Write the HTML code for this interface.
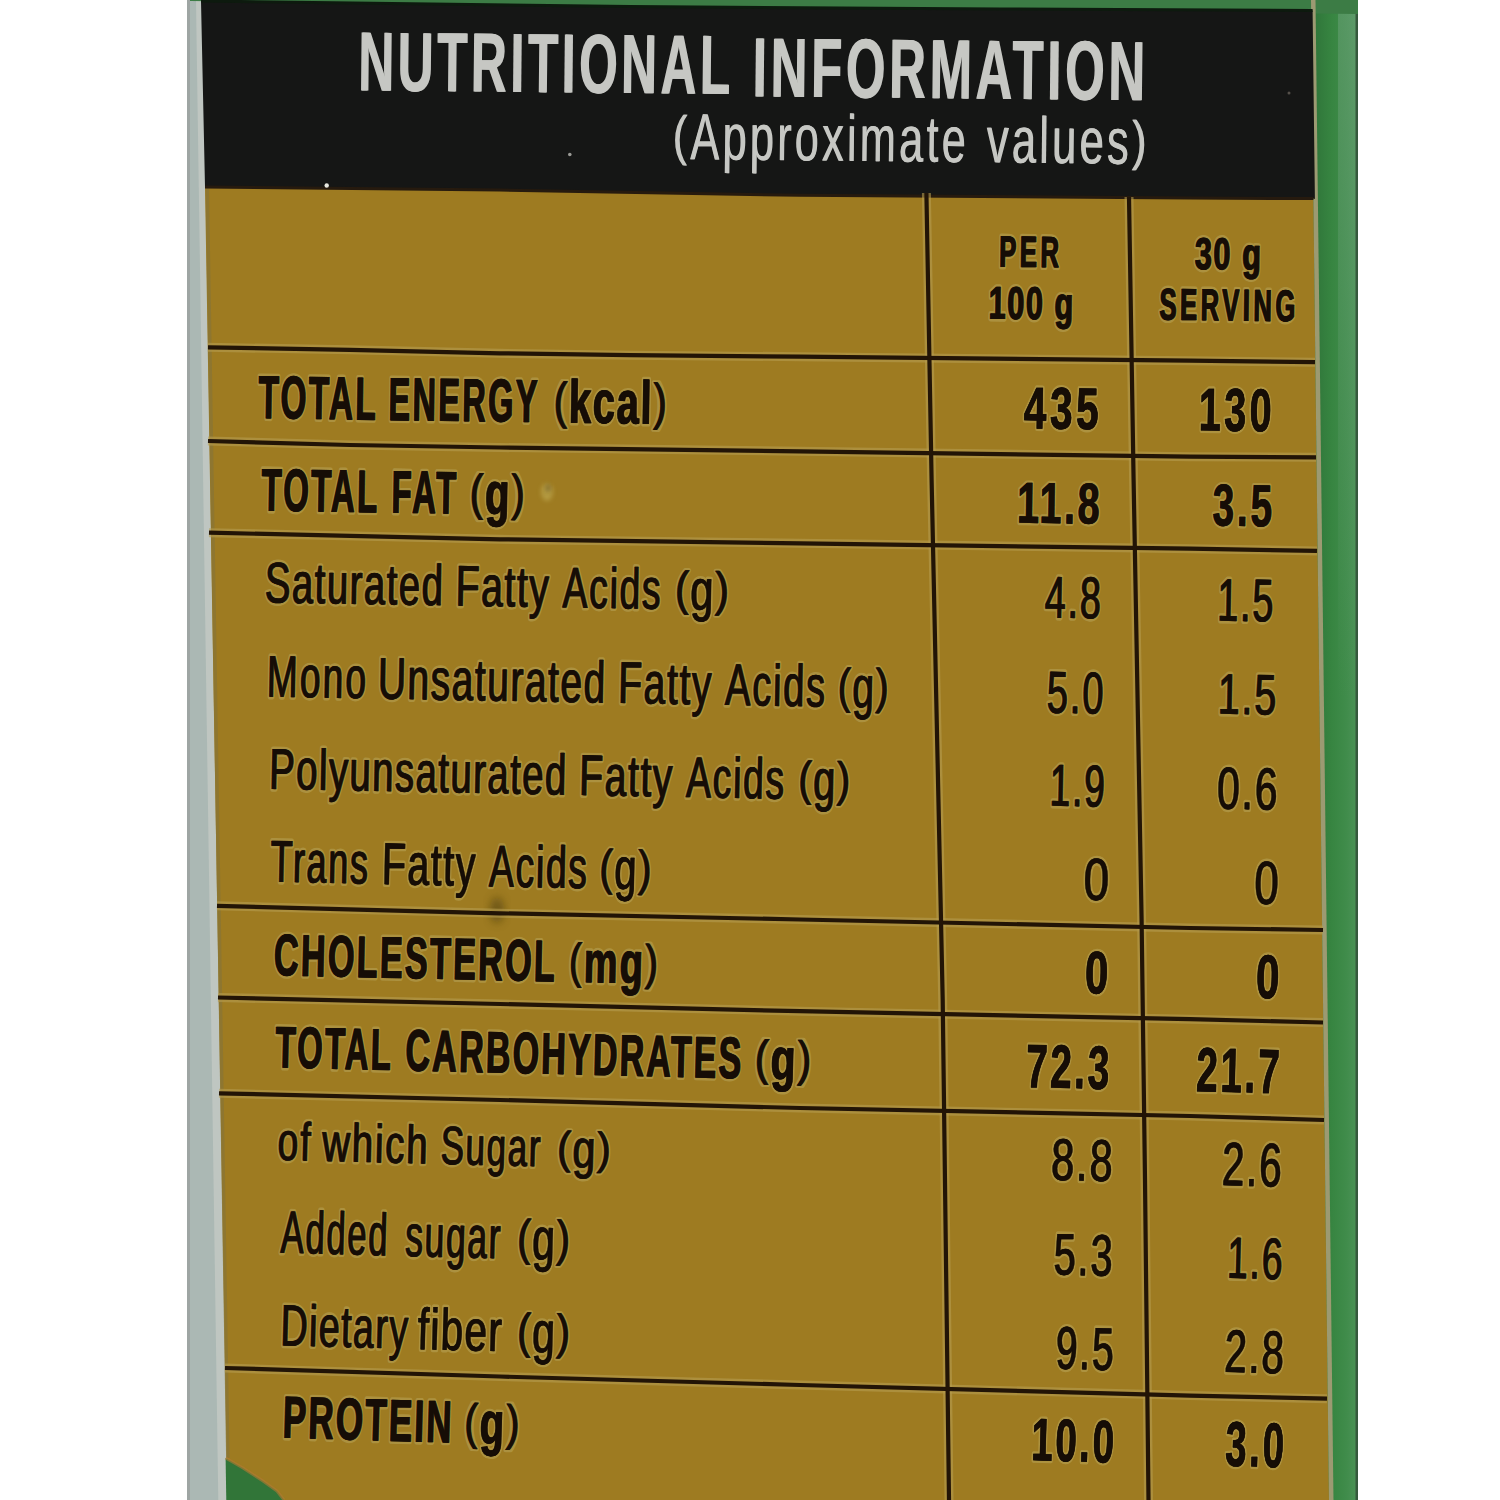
<!DOCTYPE html>
<html><head><meta charset="utf-8"><style>
html,body{margin:0;padding:0;width:1500px;height:1500px;overflow:hidden;background:#fff}
svg{display:block}
text{font-family:"Liberation Sans",sans-serif}
</style></head><body>
<svg width="1500" height="1500" viewBox="0 0 1500 1500" text-rendering="geometricPrecision">
<defs><linearGradient id="gband" gradientUnits="userSpaceOnUse" x1="1315" y1="0" x2="1357" y2="0"><stop offset="0" stop-color="#30763a"/><stop offset="0.4" stop-color="#378541"/><stop offset="0.75" stop-color="#408c4b"/><stop offset="1" stop-color="#4c9257"/></linearGradient><linearGradient id="gtop" gradientUnits="userSpaceOnUse" x1="0" y1="0" x2="0" y2="700"><stop offset="0" stop-color="#7aa888" stop-opacity="0.4"/><stop offset="1" stop-color="#7aa888" stop-opacity="0"/></linearGradient></defs>
<rect x="0" y="0" width="1500" height="1500" fill="#ffffff"/>
<polygon points="187,0 204.0,0 228.3,1500 187,1500" fill="#abb8b4"/>
<polygon points="196.0,0 204.0,0 228.3,1500 218.3,1500" fill="#bfc6c1"/>
<rect x="187" y="0" width="3" height="1500" fill="#9ea5a3"/>
<polygon points="1300,0 1358,0 1358,1500 1300,1500" fill="url(#gband)"/>
<rect x="1338" y="0" width="18" height="1500" fill="url(#gtop)"/>
<rect x="1355.5" y="0" width="2.5" height="1500" fill="#36593d"/>
<polygon points="190,-1 1358,-1 1358,14 190,1" fill="#3c7c45"/>
<polygon points="205.0,187.0 500.0,190.0 800.0,195.3 1190.0,198.0 1313.4,198.6 1329.0,1500 227.3,1500" fill="#9e7b21"/>
<polygon points="205.5,187 209.0,187 229.6,1458 226.1,1458" fill="#8a7634" opacity="0.8"/>
<polygon points="1311.0,0 1315.5,0 1333.5,1500 1329.0,1500" fill="#9c9a72"/>
<polygon points="201.0,1.0 630.0,6.5 1000.0,9.0 1312.6,10.5 1314.9,199 1313.4,198.6 1190.0,198.0 800.0,195.3 500.0,190.0 205.0,187.0" fill="#151615"/>
<polyline points="201.0,1.0 630.0,6.5 1000.0,9.0 1312.6,10.5" fill="none" stroke="#0d1a0e" stroke-width="3"/>
<polyline points="205.0,187.0 500.0,190.0 800.0,195.3 1190.0,198.0 1313.4,198.6" fill="none" stroke="#261a0e" stroke-width="3"/>
<circle cx="326.7" cy="185.5" r="2.2" fill="#e8e8e0"/>
<circle cx="569.8" cy="154.5" r="1.8" fill="#9a9a96"/>
<circle cx="1289" cy="93" r="1.5" fill="#55504a"/>
<defs><filter id="blur4" x="-50%" y="-50%" width="200%" height="200%"><feGaussianBlur stdDeviation="4"/></filter><filter id="blur2" x="-50%" y="-50%" width="200%" height="200%"><feGaussianBlur stdDeviation="2"/></filter></defs>
<ellipse cx="497" cy="910" rx="7" ry="13" fill="#4a3a10" opacity="0.55" filter="url(#blur4)"/>
<ellipse cx="547" cy="492" rx="6" ry="9" fill="#c8b860" opacity="0.5" filter="url(#blur2)"/>
<ellipse cx="548" cy="488" rx="2.5" ry="4" fill="#5a4a20" opacity="0.5" filter="url(#blur2)"/>
<polygon points="225.6,1458 243,1468 263,1481 277,1491 284,1500 226.3,1500" fill="#317538"/>
<polyline points="225.6,1458 243,1468 263,1481 277,1491 284,1500" fill="none" stroke="#b27a32" stroke-opacity="0.6" stroke-width="3"/>
<polyline points="208.0,347.3 350.0,349.8 500.0,353.3 630.0,355.2 800.0,356.7 1190.0,360.7 1315.0,362.2" fill="none" stroke="#b59d50" stroke-opacity="0.6" stroke-width="9" stroke-linejoin="round"/>
<polyline points="208.0,441.0 350.0,445.0 500.0,447.5 800.0,451.3 1190.0,456.7 1316.0,457.3" fill="none" stroke="#b59d50" stroke-opacity="0.6" stroke-width="9" stroke-linejoin="round"/>
<polyline points="209.0,532.7 500.0,539.3 800.0,543.3 1190.0,548.7 1317.0,550.9" fill="none" stroke="#b59d50" stroke-opacity="0.6" stroke-width="9" stroke-linejoin="round"/>
<polyline points="217.0,905.8 500.0,913.3 800.0,919.5 1190.0,928.0 1323.0,930.0" fill="none" stroke="#b59d50" stroke-opacity="0.6" stroke-width="9" stroke-linejoin="round"/>
<polyline points="218.0,997.5 500.0,1004.0 800.0,1011.2 1190.0,1019.2 1323.0,1022.5" fill="none" stroke="#b59d50" stroke-opacity="0.6" stroke-width="9" stroke-linejoin="round"/>
<polyline points="219.0,1093.3 500.0,1100.0 800.0,1108.0 1190.0,1116.0 1324.0,1120.0" fill="none" stroke="#b59d50" stroke-opacity="0.6" stroke-width="9" stroke-linejoin="round"/>
<polyline points="225.0,1368.0 500.0,1376.5 800.0,1385.0 1190.0,1395.6 1327.0,1398.7" fill="none" stroke="#b59d50" stroke-opacity="0.6" stroke-width="9" stroke-linejoin="round"/>
<polyline points="926.4,193.0 931.6,480.0 942.7,1000.0 949.0,1500.0" fill="none" stroke="#b59d50" stroke-opacity="0.6" stroke-width="9" stroke-linejoin="round"/>
<polyline points="1129.0,197.0 1133.6,480.0 1141.6,920.0 1145.0,1180.0 1148.5,1500.0" fill="none" stroke="#b59d50" stroke-opacity="0.6" stroke-width="9" stroke-linejoin="round"/>
<polyline points="208.0,347.3 350.0,349.8 500.0,353.3 630.0,355.2 800.0,356.7 1190.0,360.7 1315.0,362.2" fill="none" stroke="#221406" stroke-width="4.2" stroke-linejoin="round"/>
<polyline points="208.0,441.0 350.0,445.0 500.0,447.5 800.0,451.3 1190.0,456.7 1316.0,457.3" fill="none" stroke="#221406" stroke-width="4.2" stroke-linejoin="round"/>
<polyline points="209.0,532.7 500.0,539.3 800.0,543.3 1190.0,548.7 1317.0,550.9" fill="none" stroke="#221406" stroke-width="4.2" stroke-linejoin="round"/>
<polyline points="217.0,905.8 500.0,913.3 800.0,919.5 1190.0,928.0 1323.0,930.0" fill="none" stroke="#221406" stroke-width="4.2" stroke-linejoin="round"/>
<polyline points="218.0,997.5 500.0,1004.0 800.0,1011.2 1190.0,1019.2 1323.0,1022.5" fill="none" stroke="#221406" stroke-width="4.2" stroke-linejoin="round"/>
<polyline points="219.0,1093.3 500.0,1100.0 800.0,1108.0 1190.0,1116.0 1324.0,1120.0" fill="none" stroke="#221406" stroke-width="4.2" stroke-linejoin="round"/>
<polyline points="225.0,1368.0 500.0,1376.5 800.0,1385.0 1190.0,1395.6 1327.0,1398.7" fill="none" stroke="#221406" stroke-width="4.2" stroke-linejoin="round"/>
<polyline points="926.4,193.0 931.6,480.0 942.7,1000.0 949.0,1500.0" fill="none" stroke="#221406" stroke-width="4.2" stroke-linejoin="round"/>
<polyline points="1129.0,197.0 1133.6,480.0 1141.6,920.0 1145.0,1180.0 1148.5,1500.0" fill="none" stroke="#221406" stroke-width="4.2" stroke-linejoin="round"/>
<text x="357.66" y="90.50" font-size="84.22" font-weight="bold" fill="#c6c7c3" style="letter-spacing:6.249px;white-space:pre" textLength="375.60" lengthAdjust="spacingAndGlyphs" stroke="#c6c7c3" stroke-width="0.0" transform="rotate(0.560 357.66 90.50)">NUTRITIONAL</text>
<text x="358.66" y="90.50" font-size="84.22" font-weight="bold" fill="#c6c7c3" style="letter-spacing:6.249px;white-space:pre" textLength="375.60" lengthAdjust="spacingAndGlyphs" stroke="#c6c7c3" stroke-width="0.0" transform="rotate(0.560 357.66 90.50)">NUTRITIONAL</text>
<text x="751.98" y="96.50" font-size="84.36" font-weight="bold" fill="#c6c7c3" style="letter-spacing:6.416px;white-space:pre" textLength="396.33" lengthAdjust="spacingAndGlyphs" stroke="#c6c7c3" stroke-width="0.0" transform="rotate(0.565 751.98 96.50)">INFORMATION</text>
<text x="752.98" y="96.50" font-size="84.36" font-weight="bold" fill="#c6c7c3" style="letter-spacing:6.416px;white-space:pre" textLength="396.33" lengthAdjust="spacingAndGlyphs" stroke="#c6c7c3" stroke-width="0.0" transform="rotate(0.565 751.98 96.50)">INFORMATION</text>
<text x="672.28" y="159.00" font-size="65.45" font-weight="normal" fill="#c6c7c3" style="letter-spacing:4.739px;white-space:pre" textLength="17.62" lengthAdjust="spacingAndGlyphs" stroke="#c6c7c3" stroke-width="0.0" transform="rotate(0.615 672.28 159.00) translate(0 154.03) scale(1 0.83) translate(0 -159.00)">(</text>
<text x="689.90" y="159.00" font-size="65.45" font-weight="normal" fill="#c6c7c3" style="letter-spacing:4.739px;white-space:pre" textLength="278.57" lengthAdjust="spacingAndGlyphs" stroke="#c6c7c3" stroke-width="0.0" transform="rotate(0.615 672.28 159.00)">Approximate</text>
<text x="672.88" y="159.00" font-size="65.45" font-weight="normal" fill="#c6c7c3" style="letter-spacing:4.739px;white-space:pre" textLength="17.62" lengthAdjust="spacingAndGlyphs" stroke="#c6c7c3" stroke-width="0.0" transform="rotate(0.615 672.28 159.00) translate(0 154.03) scale(1 0.83) translate(0 -159.00)">(</text>
<text x="690.50" y="159.00" font-size="65.45" font-weight="normal" fill="#c6c7c3" style="letter-spacing:4.739px;white-space:pre" textLength="278.57" lengthAdjust="spacingAndGlyphs" stroke="#c6c7c3" stroke-width="0.0" transform="rotate(0.615 672.28 159.00)">Approximate</text>
<text x="986.29" y="162.35" font-size="65.45" font-weight="normal" fill="#c6c7c3" style="letter-spacing:4.701px;white-space:pre" textLength="145.23" lengthAdjust="spacingAndGlyphs" stroke="#c6c7c3" stroke-width="0.0" transform="rotate(0.618 986.29 162.35)">values</text>
<text x="1131.52" y="162.35" font-size="65.45" font-weight="normal" fill="#c6c7c3" style="letter-spacing:4.701px;white-space:pre" textLength="17.70" lengthAdjust="spacingAndGlyphs" stroke="#c6c7c3" stroke-width="0.0" transform="rotate(0.618 986.29 162.35) translate(0 157.38) scale(1 0.83) translate(0 -162.35)">)</text>
<text x="986.89" y="162.35" font-size="65.45" font-weight="normal" fill="#c6c7c3" style="letter-spacing:4.701px;white-space:pre" textLength="145.23" lengthAdjust="spacingAndGlyphs" stroke="#c6c7c3" stroke-width="0.0" transform="rotate(0.618 986.29 162.35)">values</text>
<text x="1132.12" y="162.35" font-size="65.45" font-weight="normal" fill="#c6c7c3" style="letter-spacing:4.701px;white-space:pre" textLength="17.70" lengthAdjust="spacingAndGlyphs" stroke="#c6c7c3" stroke-width="0.0" transform="rotate(0.618 986.29 162.35) translate(0 157.38) scale(1 0.83) translate(0 -162.35)">)</text>
<text x="999.00" y="266.40" font-size="43.64" font-weight="bold" fill="none" style="letter-spacing:5.854px;white-space:pre" textLength="63.26" lengthAdjust="spacingAndGlyphs" stroke="#b9a55a" stroke-opacity="0.55" stroke-width="5.90" stroke-linejoin="round" transform="rotate(0.702 998.70 266.40)">PER</text>
<text x="998.70" y="266.40" font-size="43.64" font-weight="bold" fill="#160d06" style="letter-spacing:5.854px;white-space:pre" textLength="63.26" lengthAdjust="spacingAndGlyphs" stroke="#160d06" stroke-width="0.8" transform="rotate(0.702 998.70 266.40)">PER</text>
<text x="999.30" y="266.40" font-size="43.64" font-weight="bold" fill="#160d06" style="letter-spacing:5.854px;white-space:pre" textLength="63.26" lengthAdjust="spacingAndGlyphs" stroke="#160d06" stroke-width="0.8" transform="rotate(0.702 998.70 266.40)">PER</text>
<text x="988.56" y="318.40" font-size="45.67" font-weight="bold" fill="none" style="letter-spacing:2.413px;white-space:pre" textLength="86.06" lengthAdjust="spacingAndGlyphs" stroke="#b9a55a" stroke-opacity="0.55" stroke-width="5.90" stroke-linejoin="round" transform="rotate(0.744 988.26 318.40)">100 g</text>
<text x="988.26" y="318.40" font-size="45.67" font-weight="bold" fill="#160d06" style="letter-spacing:2.413px;white-space:pre" textLength="86.06" lengthAdjust="spacingAndGlyphs" stroke="#160d06" stroke-width="0.8" transform="rotate(0.744 988.26 318.40)">100 g</text>
<text x="988.86" y="318.40" font-size="45.67" font-weight="bold" fill="#160d06" style="letter-spacing:2.413px;white-space:pre" textLength="86.06" lengthAdjust="spacingAndGlyphs" stroke="#160d06" stroke-width="0.8" transform="rotate(0.744 988.26 318.40)">100 g</text>
<text x="1194.69" y="268.90" font-size="44.73" font-weight="bold" fill="none" style="letter-spacing:2.480px;white-space:pre" textLength="67.74" lengthAdjust="spacingAndGlyphs" stroke="#b9a55a" stroke-opacity="0.55" stroke-width="5.90" stroke-linejoin="round" transform="rotate(0.704 1194.39 268.90)">30 g</text>
<text x="1194.39" y="268.90" font-size="44.73" font-weight="bold" fill="#160d06" style="letter-spacing:2.480px;white-space:pre" textLength="67.74" lengthAdjust="spacingAndGlyphs" stroke="#160d06" stroke-width="0.8" transform="rotate(0.704 1194.39 268.90)">30 g</text>
<text x="1194.99" y="268.90" font-size="44.73" font-weight="bold" fill="#160d06" style="letter-spacing:2.480px;white-space:pre" textLength="67.74" lengthAdjust="spacingAndGlyphs" stroke="#160d06" stroke-width="0.8" transform="rotate(0.704 1194.39 268.90)">30 g</text>
<text x="1159.36" y="319.50" font-size="44.51" font-weight="bold" fill="none" style="letter-spacing:6.203px;white-space:pre" textLength="139.27" lengthAdjust="spacingAndGlyphs" stroke="#b9a55a" stroke-opacity="0.55" stroke-width="5.90" stroke-linejoin="round" transform="rotate(0.745 1159.06 319.50)">SERVING</text>
<text x="1159.06" y="319.50" font-size="44.51" font-weight="bold" fill="#160d06" style="letter-spacing:6.203px;white-space:pre" textLength="139.27" lengthAdjust="spacingAndGlyphs" stroke="#160d06" stroke-width="0.8" transform="rotate(0.745 1159.06 319.50)">SERVING</text>
<text x="1159.66" y="319.50" font-size="44.51" font-weight="bold" fill="#160d06" style="letter-spacing:6.203px;white-space:pre" textLength="139.27" lengthAdjust="spacingAndGlyphs" stroke="#160d06" stroke-width="0.8" transform="rotate(0.745 1159.06 319.50)">SERVING</text>
<text x="258.19" y="418.00" font-size="60.51" font-weight="bold" fill="none" style="letter-spacing:4.209px;white-space:pre" textLength="119.62" lengthAdjust="spacingAndGlyphs" stroke="#b9a55a" stroke-opacity="0.55" stroke-width="5.90" stroke-linejoin="round" transform="rotate(0.825 257.89 418.00)">TOTAL</text>
<text x="257.89" y="418.00" font-size="60.51" font-weight="bold" fill="#160d06" style="letter-spacing:4.209px;white-space:pre" textLength="119.62" lengthAdjust="spacingAndGlyphs" stroke="#160d06" stroke-width="0.8" transform="rotate(0.825 257.89 418.00)">TOTAL</text>
<text x="258.49" y="418.00" font-size="60.51" font-weight="bold" fill="#160d06" style="letter-spacing:4.209px;white-space:pre" textLength="119.62" lengthAdjust="spacingAndGlyphs" stroke="#160d06" stroke-width="0.8" transform="rotate(0.825 257.89 418.00)">TOTAL</text>
<text x="388.32" y="419.90" font-size="60.51" font-weight="bold" fill="none" style="letter-spacing:4.354px;white-space:pre" textLength="151.09" lengthAdjust="spacingAndGlyphs" stroke="#b9a55a" stroke-opacity="0.55" stroke-width="5.90" stroke-linejoin="round" transform="rotate(0.826 388.02 419.90)">ENERGY</text>
<text x="388.02" y="419.90" font-size="60.51" font-weight="bold" fill="#160d06" style="letter-spacing:4.354px;white-space:pre" textLength="151.09" lengthAdjust="spacingAndGlyphs" stroke="#160d06" stroke-width="0.8" transform="rotate(0.826 388.02 419.90)">ENERGY</text>
<text x="388.62" y="419.90" font-size="60.51" font-weight="bold" fill="#160d06" style="letter-spacing:4.354px;white-space:pre" textLength="151.09" lengthAdjust="spacingAndGlyphs" stroke="#160d06" stroke-width="0.8" transform="rotate(0.826 388.02 419.90)">ENERGY</text>
<text x="553.57" y="422.28" font-size="60.51" font-weight="bold" fill="none" style="letter-spacing:2.644px;white-space:pre" textLength="15.02" lengthAdjust="spacingAndGlyphs" stroke="#b9a55a" stroke-opacity="0.55" stroke-width="5.90" stroke-linejoin="round" transform="rotate(0.828 553.27 422.28) translate(0 417.68) scale(1 0.83) translate(0 -422.28)">(</text>
<text x="568.59" y="422.28" font-size="60.51" font-weight="bold" fill="none" style="letter-spacing:2.644px;white-space:pre" textLength="84.56" lengthAdjust="spacingAndGlyphs" stroke="#b9a55a" stroke-opacity="0.55" stroke-width="5.90" stroke-linejoin="round" transform="rotate(0.828 553.27 422.28)">kcal</text>
<text x="653.15" y="422.28" font-size="60.51" font-weight="bold" fill="none" style="letter-spacing:2.644px;white-space:pre" textLength="15.02" lengthAdjust="spacingAndGlyphs" stroke="#b9a55a" stroke-opacity="0.55" stroke-width="5.90" stroke-linejoin="round" transform="rotate(0.828 553.27 422.28) translate(0 417.68) scale(1 0.83) translate(0 -422.28)">)</text>
<text x="553.27" y="422.28" font-size="60.51" font-weight="normal" fill="#160d06" style="letter-spacing:2.644px;white-space:pre" textLength="15.02" lengthAdjust="spacingAndGlyphs" stroke="#160d06" stroke-width="0.8" transform="rotate(0.828 553.27 422.28) translate(0 417.68) scale(1 0.83) translate(0 -422.28)">(</text>
<text x="568.29" y="422.28" font-size="60.51" font-weight="bold" fill="#160d06" style="letter-spacing:2.644px;white-space:pre" textLength="84.56" lengthAdjust="spacingAndGlyphs" stroke="#160d06" stroke-width="0.8" transform="rotate(0.828 553.27 422.28)">kcal</text>
<text x="652.85" y="422.28" font-size="60.51" font-weight="normal" fill="#160d06" style="letter-spacing:2.644px;white-space:pre" textLength="15.02" lengthAdjust="spacingAndGlyphs" stroke="#160d06" stroke-width="0.8" transform="rotate(0.828 553.27 422.28) translate(0 417.68) scale(1 0.83) translate(0 -422.28)">)</text>
<text x="553.87" y="422.28" font-size="60.51" font-weight="normal" fill="#160d06" style="letter-spacing:2.644px;white-space:pre" textLength="15.02" lengthAdjust="spacingAndGlyphs" stroke="#160d06" stroke-width="0.8" transform="rotate(0.828 553.27 422.28) translate(0 417.68) scale(1 0.83) translate(0 -422.28)">(</text>
<text x="568.89" y="422.28" font-size="60.51" font-weight="bold" fill="#160d06" style="letter-spacing:2.644px;white-space:pre" textLength="84.56" lengthAdjust="spacingAndGlyphs" stroke="#160d06" stroke-width="0.8" transform="rotate(0.828 553.27 422.28)">kcal</text>
<text x="653.45" y="422.28" font-size="60.51" font-weight="normal" fill="#160d06" style="letter-spacing:2.644px;white-space:pre" textLength="15.02" lengthAdjust="spacingAndGlyphs" stroke="#160d06" stroke-width="0.8" transform="rotate(0.828 553.27 422.28) translate(0 417.68) scale(1 0.83) translate(0 -422.28)">)</text>
<text x="261.19" y="510.40" font-size="59.93" font-weight="bold" fill="none" style="letter-spacing:4.169px;white-space:pre" textLength="118.08" lengthAdjust="spacingAndGlyphs" stroke="#b9a55a" stroke-opacity="0.55" stroke-width="5.90" stroke-linejoin="round" transform="rotate(0.899 260.89 510.40)">TOTAL</text>
<text x="260.89" y="510.40" font-size="59.93" font-weight="bold" fill="#160d06" style="letter-spacing:4.169px;white-space:pre" textLength="118.08" lengthAdjust="spacingAndGlyphs" stroke="#160d06" stroke-width="0.8" transform="rotate(0.899 260.89 510.40)">TOTAL</text>
<text x="261.49" y="510.40" font-size="59.93" font-weight="bold" fill="#160d06" style="letter-spacing:4.169px;white-space:pre" textLength="118.08" lengthAdjust="spacingAndGlyphs" stroke="#160d06" stroke-width="0.8" transform="rotate(0.899 260.89 510.40)">TOTAL</text>
<text x="391.30" y="512.47" font-size="59.93" font-weight="bold" fill="none" style="letter-spacing:4.521px;white-space:pre" textLength="67.05" lengthAdjust="spacingAndGlyphs" stroke="#b9a55a" stroke-opacity="0.55" stroke-width="5.90" stroke-linejoin="round" transform="rotate(0.901 391.00 512.47)">FAT</text>
<text x="391.00" y="512.47" font-size="59.93" font-weight="bold" fill="#160d06" style="letter-spacing:4.521px;white-space:pre" textLength="67.05" lengthAdjust="spacingAndGlyphs" stroke="#160d06" stroke-width="0.8" transform="rotate(0.901 391.00 512.47)">FAT</text>
<text x="391.60" y="512.47" font-size="59.93" font-weight="bold" fill="#160d06" style="letter-spacing:4.521px;white-space:pre" textLength="67.05" lengthAdjust="spacingAndGlyphs" stroke="#160d06" stroke-width="0.8" transform="rotate(0.901 391.00 512.47)">FAT</text>
<text x="469.58" y="513.70" font-size="59.93" font-weight="bold" fill="none" style="letter-spacing:3.068px;white-space:pre" textLength="15.27" lengthAdjust="spacingAndGlyphs" stroke="#b9a55a" stroke-opacity="0.55" stroke-width="5.90" stroke-linejoin="round" transform="rotate(0.902 469.28 513.70) translate(0 509.15) scale(1 0.83) translate(0 -513.70)">(</text>
<text x="484.85" y="513.70" font-size="59.93" font-weight="bold" fill="none" style="letter-spacing:3.068px;white-space:pre" textLength="26.31" lengthAdjust="spacingAndGlyphs" stroke="#b9a55a" stroke-opacity="0.55" stroke-width="5.90" stroke-linejoin="round" transform="rotate(0.902 469.28 513.70)">g</text>
<text x="511.16" y="513.70" font-size="59.93" font-weight="bold" fill="none" style="letter-spacing:3.068px;white-space:pre" textLength="15.27" lengthAdjust="spacingAndGlyphs" stroke="#b9a55a" stroke-opacity="0.55" stroke-width="5.90" stroke-linejoin="round" transform="rotate(0.902 469.28 513.70) translate(0 509.15) scale(1 0.83) translate(0 -513.70)">)</text>
<text x="469.28" y="513.70" font-size="59.93" font-weight="normal" fill="#160d06" style="letter-spacing:3.068px;white-space:pre" textLength="15.27" lengthAdjust="spacingAndGlyphs" stroke="#160d06" stroke-width="0.8" transform="rotate(0.902 469.28 513.70) translate(0 509.15) scale(1 0.83) translate(0 -513.70)">(</text>
<text x="484.55" y="513.70" font-size="59.93" font-weight="bold" fill="#160d06" style="letter-spacing:3.068px;white-space:pre" textLength="26.31" lengthAdjust="spacingAndGlyphs" stroke="#160d06" stroke-width="0.8" transform="rotate(0.902 469.28 513.70)">g</text>
<text x="510.86" y="513.70" font-size="59.93" font-weight="normal" fill="#160d06" style="letter-spacing:3.068px;white-space:pre" textLength="15.27" lengthAdjust="spacingAndGlyphs" stroke="#160d06" stroke-width="0.8" transform="rotate(0.902 469.28 513.70) translate(0 509.15) scale(1 0.83) translate(0 -513.70)">)</text>
<text x="469.88" y="513.70" font-size="59.93" font-weight="normal" fill="#160d06" style="letter-spacing:3.068px;white-space:pre" textLength="15.27" lengthAdjust="spacingAndGlyphs" stroke="#160d06" stroke-width="0.8" transform="rotate(0.902 469.28 513.70) translate(0 509.15) scale(1 0.83) translate(0 -513.70)">(</text>
<text x="485.15" y="513.70" font-size="59.93" font-weight="bold" fill="#160d06" style="letter-spacing:3.068px;white-space:pre" textLength="26.31" lengthAdjust="spacingAndGlyphs" stroke="#160d06" stroke-width="0.8" transform="rotate(0.902 469.28 513.70)">g</text>
<text x="511.46" y="513.70" font-size="59.93" font-weight="normal" fill="#160d06" style="letter-spacing:3.068px;white-space:pre" textLength="15.27" lengthAdjust="spacingAndGlyphs" stroke="#160d06" stroke-width="0.8" transform="rotate(0.902 469.28 513.70) translate(0 509.15) scale(1 0.83) translate(0 -513.70)">)</text>
<text x="264.63" y="602.20" font-size="57.31" font-weight="normal" fill="none" style="letter-spacing:2.279px;white-space:pre" textLength="179.49" lengthAdjust="spacingAndGlyphs" stroke="#b9a55a" stroke-opacity="0.55" stroke-width="5.80" stroke-linejoin="round" transform="rotate(0.973 264.28 602.20)">Saturated</text>
<text x="264.28" y="602.20" font-size="57.31" font-weight="normal" fill="#160d06" style="letter-spacing:2.279px;white-space:pre" textLength="179.49" lengthAdjust="spacingAndGlyphs" stroke="#160d06" stroke-width="0.6" transform="rotate(0.973 264.28 602.20)">Saturated</text>
<text x="264.98" y="602.20" font-size="57.31" font-weight="normal" fill="#160d06" style="letter-spacing:2.279px;white-space:pre" textLength="179.49" lengthAdjust="spacingAndGlyphs" stroke="#160d06" stroke-width="0.6" transform="rotate(0.973 264.28 602.20)">Saturated</text>
<text x="455.33" y="605.47" font-size="57.31" font-weight="normal" fill="none" style="letter-spacing:2.305px;white-space:pre" textLength="94.80" lengthAdjust="spacingAndGlyphs" stroke="#b9a55a" stroke-opacity="0.55" stroke-width="5.80" stroke-linejoin="round" transform="rotate(0.976 454.98 605.47)">Fatty</text>
<text x="454.98" y="605.47" font-size="57.31" font-weight="normal" fill="#160d06" style="letter-spacing:2.305px;white-space:pre" textLength="94.80" lengthAdjust="spacingAndGlyphs" stroke="#160d06" stroke-width="0.6" transform="rotate(0.976 454.98 605.47)">Fatty</text>
<text x="455.68" y="605.47" font-size="57.31" font-weight="normal" fill="#160d06" style="letter-spacing:2.305px;white-space:pre" textLength="94.80" lengthAdjust="spacingAndGlyphs" stroke="#160d06" stroke-width="0.6" transform="rotate(0.976 454.98 605.47)">Fatty</text>
<text x="562.45" y="607.23" font-size="57.31" font-weight="normal" fill="none" style="letter-spacing:2.596px;white-space:pre" textLength="99.51" lengthAdjust="spacingAndGlyphs" stroke="#b9a55a" stroke-opacity="0.55" stroke-width="5.80" stroke-linejoin="round" transform="rotate(0.977 562.10 607.23)">Acids</text>
<text x="562.10" y="607.23" font-size="57.31" font-weight="normal" fill="#160d06" style="letter-spacing:2.596px;white-space:pre" textLength="99.51" lengthAdjust="spacingAndGlyphs" stroke="#160d06" stroke-width="0.6" transform="rotate(0.977 562.10 607.23)">Acids</text>
<text x="562.80" y="607.23" font-size="57.31" font-weight="normal" fill="#160d06" style="letter-spacing:2.596px;white-space:pre" textLength="99.51" lengthAdjust="spacingAndGlyphs" stroke="#160d06" stroke-width="0.6" transform="rotate(0.977 562.10 607.23)">Acids</text>
<text x="674.79" y="609.19" font-size="57.31" font-weight="normal" fill="none" style="letter-spacing:2.372px;white-space:pre" textLength="15.44" lengthAdjust="spacingAndGlyphs" stroke="#b9a55a" stroke-opacity="0.55" stroke-width="5.80" stroke-linejoin="round" transform="rotate(0.979 674.44 609.19) translate(0 604.84) scale(1 0.83) translate(0 -609.19)">(</text>
<text x="690.23" y="609.19" font-size="57.31" font-weight="normal" fill="none" style="letter-spacing:2.372px;white-space:pre" textLength="24.64" lengthAdjust="spacingAndGlyphs" stroke="#b9a55a" stroke-opacity="0.55" stroke-width="5.80" stroke-linejoin="round" transform="rotate(0.979 674.44 609.19)">g</text>
<text x="714.86" y="609.19" font-size="57.31" font-weight="normal" fill="none" style="letter-spacing:2.372px;white-space:pre" textLength="15.44" lengthAdjust="spacingAndGlyphs" stroke="#b9a55a" stroke-opacity="0.55" stroke-width="5.80" stroke-linejoin="round" transform="rotate(0.979 674.44 609.19) translate(0 604.84) scale(1 0.83) translate(0 -609.19)">)</text>
<text x="674.44" y="609.19" font-size="57.31" font-weight="normal" fill="#160d06" style="letter-spacing:2.372px;white-space:pre" textLength="15.44" lengthAdjust="spacingAndGlyphs" stroke="#160d06" stroke-width="0.6" transform="rotate(0.979 674.44 609.19) translate(0 604.84) scale(1 0.83) translate(0 -609.19)">(</text>
<text x="689.88" y="609.19" font-size="57.31" font-weight="normal" fill="#160d06" style="letter-spacing:2.372px;white-space:pre" textLength="24.64" lengthAdjust="spacingAndGlyphs" stroke="#160d06" stroke-width="0.6" transform="rotate(0.979 674.44 609.19)">g</text>
<text x="714.51" y="609.19" font-size="57.31" font-weight="normal" fill="#160d06" style="letter-spacing:2.372px;white-space:pre" textLength="15.44" lengthAdjust="spacingAndGlyphs" stroke="#160d06" stroke-width="0.6" transform="rotate(0.979 674.44 609.19) translate(0 604.84) scale(1 0.83) translate(0 -609.19)">)</text>
<text x="675.14" y="609.19" font-size="57.31" font-weight="normal" fill="#160d06" style="letter-spacing:2.372px;white-space:pre" textLength="15.44" lengthAdjust="spacingAndGlyphs" stroke="#160d06" stroke-width="0.6" transform="rotate(0.979 674.44 609.19) translate(0 604.84) scale(1 0.83) translate(0 -609.19)">(</text>
<text x="690.58" y="609.19" font-size="57.31" font-weight="normal" fill="#160d06" style="letter-spacing:2.372px;white-space:pre" textLength="24.64" lengthAdjust="spacingAndGlyphs" stroke="#160d06" stroke-width="0.6" transform="rotate(0.979 674.44 609.19)">g</text>
<text x="715.21" y="609.19" font-size="57.31" font-weight="normal" fill="#160d06" style="letter-spacing:2.372px;white-space:pre" textLength="15.44" lengthAdjust="spacingAndGlyphs" stroke="#160d06" stroke-width="0.6" transform="rotate(0.979 674.44 609.19) translate(0 604.84) scale(1 0.83) translate(0 -609.19)">)</text>
<text x="266.48" y="696.40" font-size="58.62" font-weight="normal" fill="none" style="letter-spacing:3.497px;white-space:pre" textLength="101.53" lengthAdjust="spacingAndGlyphs" stroke="#b9a55a" stroke-opacity="0.55" stroke-width="5.80" stroke-linejoin="round" transform="rotate(1.049 266.13 696.40)">Mono</text>
<text x="266.13" y="696.40" font-size="58.62" font-weight="normal" fill="#160d06" style="letter-spacing:3.497px;white-space:pre" textLength="101.53" lengthAdjust="spacingAndGlyphs" stroke="#160d06" stroke-width="0.6" transform="rotate(1.049 266.13 696.40)">Mono</text>
<text x="266.83" y="696.40" font-size="58.62" font-weight="normal" fill="#160d06" style="letter-spacing:3.497px;white-space:pre" textLength="101.53" lengthAdjust="spacingAndGlyphs" stroke="#160d06" stroke-width="0.6" transform="rotate(1.049 266.13 696.40)">Mono</text>
<text x="377.54" y="698.43" font-size="58.62" font-weight="normal" fill="none" style="letter-spacing:2.342px;white-space:pre" textLength="228.92" lengthAdjust="spacingAndGlyphs" stroke="#b9a55a" stroke-opacity="0.55" stroke-width="5.80" stroke-linejoin="round" transform="rotate(1.051 377.19 698.43)">Unsaturated</text>
<text x="377.19" y="698.43" font-size="58.62" font-weight="normal" fill="#160d06" style="letter-spacing:2.342px;white-space:pre" textLength="228.92" lengthAdjust="spacingAndGlyphs" stroke="#160d06" stroke-width="0.6" transform="rotate(1.051 377.19 698.43)">Unsaturated</text>
<text x="377.89" y="698.43" font-size="58.62" font-weight="normal" fill="#160d06" style="letter-spacing:2.342px;white-space:pre" textLength="228.92" lengthAdjust="spacingAndGlyphs" stroke="#160d06" stroke-width="0.6" transform="rotate(1.051 377.19 698.43)">Unsaturated</text>
<text x="617.82" y="702.84" font-size="58.62" font-weight="normal" fill="none" style="letter-spacing:2.358px;white-space:pre" textLength="94.81" lengthAdjust="spacingAndGlyphs" stroke="#b9a55a" stroke-opacity="0.55" stroke-width="5.80" stroke-linejoin="round" transform="rotate(1.055 617.47 702.84)">Fatty</text>
<text x="617.47" y="702.84" font-size="58.62" font-weight="normal" fill="#160d06" style="letter-spacing:2.358px;white-space:pre" textLength="94.81" lengthAdjust="spacingAndGlyphs" stroke="#160d06" stroke-width="0.6" transform="rotate(1.055 617.47 702.84)">Fatty</text>
<text x="618.17" y="702.84" font-size="58.62" font-weight="normal" fill="#160d06" style="letter-spacing:2.358px;white-space:pre" textLength="94.81" lengthAdjust="spacingAndGlyphs" stroke="#160d06" stroke-width="0.6" transform="rotate(1.055 617.47 702.84)">Fatty</text>
<text x="724.95" y="704.75" font-size="58.62" font-weight="normal" fill="none" style="letter-spacing:2.656px;white-space:pre" textLength="101.57" lengthAdjust="spacingAndGlyphs" stroke="#b9a55a" stroke-opacity="0.55" stroke-width="5.80" stroke-linejoin="round" transform="rotate(1.056 724.60 704.75)">Acids</text>
<text x="724.60" y="704.75" font-size="58.62" font-weight="normal" fill="#160d06" style="letter-spacing:2.656px;white-space:pre" textLength="101.57" lengthAdjust="spacingAndGlyphs" stroke="#160d06" stroke-width="0.6" transform="rotate(1.056 724.60 704.75)">Acids</text>
<text x="725.30" y="704.75" font-size="58.62" font-weight="normal" fill="#160d06" style="letter-spacing:2.656px;white-space:pre" textLength="101.57" lengthAdjust="spacingAndGlyphs" stroke="#160d06" stroke-width="0.6" transform="rotate(1.056 724.60 704.75)">Acids</text>
<text x="837.41" y="706.85" font-size="58.62" font-weight="normal" fill="none" style="letter-spacing:2.427px;white-space:pre" textLength="14.59" lengthAdjust="spacingAndGlyphs" stroke="#b9a55a" stroke-opacity="0.55" stroke-width="5.80" stroke-linejoin="round" transform="rotate(1.058 837.06 706.85) translate(0 702.40) scale(1 0.83) translate(0 -706.85)">(</text>
<text x="852.01" y="706.85" font-size="58.62" font-weight="normal" fill="none" style="letter-spacing:2.427px;white-space:pre" textLength="23.29" lengthAdjust="spacingAndGlyphs" stroke="#b9a55a" stroke-opacity="0.55" stroke-width="5.80" stroke-linejoin="round" transform="rotate(1.058 837.06 706.85)">g</text>
<text x="875.30" y="706.85" font-size="58.62" font-weight="normal" fill="none" style="letter-spacing:2.427px;white-space:pre" textLength="14.59" lengthAdjust="spacingAndGlyphs" stroke="#b9a55a" stroke-opacity="0.55" stroke-width="5.80" stroke-linejoin="round" transform="rotate(1.058 837.06 706.85) translate(0 702.40) scale(1 0.83) translate(0 -706.85)">)</text>
<text x="837.06" y="706.85" font-size="58.62" font-weight="normal" fill="#160d06" style="letter-spacing:2.427px;white-space:pre" textLength="14.59" lengthAdjust="spacingAndGlyphs" stroke="#160d06" stroke-width="0.6" transform="rotate(1.058 837.06 706.85) translate(0 702.40) scale(1 0.83) translate(0 -706.85)">(</text>
<text x="851.66" y="706.85" font-size="58.62" font-weight="normal" fill="#160d06" style="letter-spacing:2.427px;white-space:pre" textLength="23.29" lengthAdjust="spacingAndGlyphs" stroke="#160d06" stroke-width="0.6" transform="rotate(1.058 837.06 706.85)">g</text>
<text x="874.95" y="706.85" font-size="58.62" font-weight="normal" fill="#160d06" style="letter-spacing:2.427px;white-space:pre" textLength="14.59" lengthAdjust="spacingAndGlyphs" stroke="#160d06" stroke-width="0.6" transform="rotate(1.058 837.06 706.85) translate(0 702.40) scale(1 0.83) translate(0 -706.85)">)</text>
<text x="837.76" y="706.85" font-size="58.62" font-weight="normal" fill="#160d06" style="letter-spacing:2.427px;white-space:pre" textLength="14.59" lengthAdjust="spacingAndGlyphs" stroke="#160d06" stroke-width="0.6" transform="rotate(1.058 837.06 706.85) translate(0 702.40) scale(1 0.83) translate(0 -706.85)">(</text>
<text x="852.36" y="706.85" font-size="58.62" font-weight="normal" fill="#160d06" style="letter-spacing:2.427px;white-space:pre" textLength="23.29" lengthAdjust="spacingAndGlyphs" stroke="#160d06" stroke-width="0.6" transform="rotate(1.058 837.06 706.85)">g</text>
<text x="875.65" y="706.85" font-size="58.62" font-weight="normal" fill="#160d06" style="letter-spacing:2.427px;white-space:pre" textLength="14.59" lengthAdjust="spacingAndGlyphs" stroke="#160d06" stroke-width="0.6" transform="rotate(1.058 837.06 706.85) translate(0 702.40) scale(1 0.83) translate(0 -706.85)">)</text>
<text x="268.89" y="788.80" font-size="57.31" font-weight="normal" fill="none" style="letter-spacing:2.181px;white-space:pre" textLength="298.49" lengthAdjust="spacingAndGlyphs" stroke="#b9a55a" stroke-opacity="0.55" stroke-width="5.80" stroke-linejoin="round" transform="rotate(1.124 268.54 788.80)">Polyunsaturated</text>
<text x="268.54" y="788.80" font-size="57.31" font-weight="normal" fill="#160d06" style="letter-spacing:2.181px;white-space:pre" textLength="298.49" lengthAdjust="spacingAndGlyphs" stroke="#160d06" stroke-width="0.6" transform="rotate(1.124 268.54 788.80)">Polyunsaturated</text>
<text x="269.24" y="788.80" font-size="57.31" font-weight="normal" fill="#160d06" style="letter-spacing:2.181px;white-space:pre" textLength="298.49" lengthAdjust="spacingAndGlyphs" stroke="#160d06" stroke-width="0.6" transform="rotate(1.124 268.54 788.80)">Polyunsaturated</text>
<text x="578.83" y="794.88" font-size="57.31" font-weight="normal" fill="none" style="letter-spacing:2.305px;white-space:pre" textLength="94.80" lengthAdjust="spacingAndGlyphs" stroke="#b9a55a" stroke-opacity="0.55" stroke-width="5.80" stroke-linejoin="round" transform="rotate(1.129 578.48 794.88)">Fatty</text>
<text x="578.48" y="794.88" font-size="57.31" font-weight="normal" fill="#160d06" style="letter-spacing:2.305px;white-space:pre" textLength="94.80" lengthAdjust="spacingAndGlyphs" stroke="#160d06" stroke-width="0.6" transform="rotate(1.129 578.48 794.88)">Fatty</text>
<text x="579.18" y="794.88" font-size="57.31" font-weight="normal" fill="#160d06" style="letter-spacing:2.305px;white-space:pre" textLength="94.80" lengthAdjust="spacingAndGlyphs" stroke="#160d06" stroke-width="0.6" transform="rotate(1.129 578.48 794.88)">Fatty</text>
<text x="685.95" y="796.93" font-size="57.31" font-weight="normal" fill="none" style="letter-spacing:2.596px;white-space:pre" textLength="99.51" lengthAdjust="spacingAndGlyphs" stroke="#b9a55a" stroke-opacity="0.55" stroke-width="5.80" stroke-linejoin="round" transform="rotate(1.131 685.60 796.93)">Acids</text>
<text x="685.60" y="796.93" font-size="57.31" font-weight="normal" fill="#160d06" style="letter-spacing:2.596px;white-space:pre" textLength="99.51" lengthAdjust="spacingAndGlyphs" stroke="#160d06" stroke-width="0.6" transform="rotate(1.131 685.60 796.93)">Acids</text>
<text x="686.30" y="796.93" font-size="57.31" font-weight="normal" fill="#160d06" style="letter-spacing:2.596px;white-space:pre" textLength="99.51" lengthAdjust="spacingAndGlyphs" stroke="#160d06" stroke-width="0.6" transform="rotate(1.131 685.60 796.93)">Acids</text>
<text x="798.08" y="799.17" font-size="57.31" font-weight="normal" fill="none" style="letter-spacing:2.372px;white-space:pre" textLength="14.84" lengthAdjust="spacingAndGlyphs" stroke="#b9a55a" stroke-opacity="0.55" stroke-width="5.80" stroke-linejoin="round" transform="rotate(1.132 797.73 799.17) translate(0 794.82) scale(1 0.83) translate(0 -799.17)">(</text>
<text x="812.92" y="799.17" font-size="57.31" font-weight="normal" fill="none" style="letter-spacing:2.372px;white-space:pre" textLength="23.69" lengthAdjust="spacingAndGlyphs" stroke="#b9a55a" stroke-opacity="0.55" stroke-width="5.80" stroke-linejoin="round" transform="rotate(1.132 797.73 799.17)">g</text>
<text x="836.61" y="799.17" font-size="57.31" font-weight="normal" fill="none" style="letter-spacing:2.372px;white-space:pre" textLength="14.84" lengthAdjust="spacingAndGlyphs" stroke="#b9a55a" stroke-opacity="0.55" stroke-width="5.80" stroke-linejoin="round" transform="rotate(1.132 797.73 799.17) translate(0 794.82) scale(1 0.83) translate(0 -799.17)">)</text>
<text x="797.73" y="799.17" font-size="57.31" font-weight="normal" fill="#160d06" style="letter-spacing:2.372px;white-space:pre" textLength="14.84" lengthAdjust="spacingAndGlyphs" stroke="#160d06" stroke-width="0.6" transform="rotate(1.132 797.73 799.17) translate(0 794.82) scale(1 0.83) translate(0 -799.17)">(</text>
<text x="812.57" y="799.17" font-size="57.31" font-weight="normal" fill="#160d06" style="letter-spacing:2.372px;white-space:pre" textLength="23.69" lengthAdjust="spacingAndGlyphs" stroke="#160d06" stroke-width="0.6" transform="rotate(1.132 797.73 799.17)">g</text>
<text x="836.26" y="799.17" font-size="57.31" font-weight="normal" fill="#160d06" style="letter-spacing:2.372px;white-space:pre" textLength="14.84" lengthAdjust="spacingAndGlyphs" stroke="#160d06" stroke-width="0.6" transform="rotate(1.132 797.73 799.17) translate(0 794.82) scale(1 0.83) translate(0 -799.17)">)</text>
<text x="798.43" y="799.17" font-size="57.31" font-weight="normal" fill="#160d06" style="letter-spacing:2.372px;white-space:pre" textLength="14.84" lengthAdjust="spacingAndGlyphs" stroke="#160d06" stroke-width="0.6" transform="rotate(1.132 797.73 799.17) translate(0 794.82) scale(1 0.83) translate(0 -799.17)">(</text>
<text x="813.27" y="799.17" font-size="57.31" font-weight="normal" fill="#160d06" style="letter-spacing:2.372px;white-space:pre" textLength="23.69" lengthAdjust="spacingAndGlyphs" stroke="#160d06" stroke-width="0.6" transform="rotate(1.132 797.73 799.17)">g</text>
<text x="836.96" y="799.17" font-size="57.31" font-weight="normal" fill="#160d06" style="letter-spacing:2.372px;white-space:pre" textLength="14.84" lengthAdjust="spacingAndGlyphs" stroke="#160d06" stroke-width="0.6" transform="rotate(1.132 797.73 799.17) translate(0 794.82) scale(1 0.83) translate(0 -799.17)">)</text>
<text x="270.22" y="881.60" font-size="58.91" font-weight="normal" fill="none" style="letter-spacing:2.730px;white-space:pre" textLength="99.14" lengthAdjust="spacingAndGlyphs" stroke="#b9a55a" stroke-opacity="0.55" stroke-width="5.80" stroke-linejoin="round" transform="rotate(1.199 269.87 881.60)">Trans</text>
<text x="269.87" y="881.60" font-size="58.91" font-weight="normal" fill="#160d06" style="letter-spacing:2.730px;white-space:pre" textLength="99.14" lengthAdjust="spacingAndGlyphs" stroke="#160d06" stroke-width="0.6" transform="rotate(1.199 269.87 881.60)">Trans</text>
<text x="270.57" y="881.60" font-size="58.91" font-weight="normal" fill="#160d06" style="letter-spacing:2.730px;white-space:pre" textLength="99.14" lengthAdjust="spacingAndGlyphs" stroke="#160d06" stroke-width="0.6" transform="rotate(1.199 269.87 881.60)">Trans</text>
<text x="381.62" y="883.98" font-size="58.91" font-weight="normal" fill="none" style="letter-spacing:2.369px;white-space:pre" textLength="94.81" lengthAdjust="spacingAndGlyphs" stroke="#b9a55a" stroke-opacity="0.55" stroke-width="5.80" stroke-linejoin="round" transform="rotate(1.201 381.27 883.98)">Fatty</text>
<text x="381.27" y="883.98" font-size="58.91" font-weight="normal" fill="#160d06" style="letter-spacing:2.369px;white-space:pre" textLength="94.81" lengthAdjust="spacingAndGlyphs" stroke="#160d06" stroke-width="0.6" transform="rotate(1.201 381.27 883.98)">Fatty</text>
<text x="381.97" y="883.98" font-size="58.91" font-weight="normal" fill="#160d06" style="letter-spacing:2.369px;white-space:pre" textLength="94.81" lengthAdjust="spacingAndGlyphs" stroke="#160d06" stroke-width="0.6" transform="rotate(1.201 381.27 883.98)">Fatty</text>
<text x="488.75" y="886.16" font-size="58.91" font-weight="normal" fill="none" style="letter-spacing:2.669px;white-space:pre" textLength="99.52" lengthAdjust="spacingAndGlyphs" stroke="#b9a55a" stroke-opacity="0.55" stroke-width="5.80" stroke-linejoin="round" transform="rotate(1.203 488.40 886.16)">Acids</text>
<text x="488.40" y="886.16" font-size="58.91" font-weight="normal" fill="#160d06" style="letter-spacing:2.669px;white-space:pre" textLength="99.52" lengthAdjust="spacingAndGlyphs" stroke="#160d06" stroke-width="0.6" transform="rotate(1.203 488.40 886.16)">Acids</text>
<text x="489.10" y="886.16" font-size="58.91" font-weight="normal" fill="#160d06" style="letter-spacing:2.669px;white-space:pre" textLength="99.52" lengthAdjust="spacingAndGlyphs" stroke="#160d06" stroke-width="0.6" transform="rotate(1.203 488.40 886.16)">Acids</text>
<text x="599.06" y="888.52" font-size="58.91" font-weight="normal" fill="none" style="letter-spacing:2.439px;white-space:pre" textLength="14.94" lengthAdjust="spacingAndGlyphs" stroke="#b9a55a" stroke-opacity="0.55" stroke-width="5.80" stroke-linejoin="round" transform="rotate(1.205 598.71 888.52) translate(0 884.05) scale(1 0.83) translate(0 -888.52)">(</text>
<text x="614.00" y="888.52" font-size="58.91" font-weight="normal" fill="none" style="letter-spacing:2.439px;white-space:pre" textLength="23.84" lengthAdjust="spacingAndGlyphs" stroke="#b9a55a" stroke-opacity="0.55" stroke-width="5.80" stroke-linejoin="round" transform="rotate(1.205 598.71 888.52)">g</text>
<text x="637.84" y="888.52" font-size="58.91" font-weight="normal" fill="none" style="letter-spacing:2.439px;white-space:pre" textLength="14.94" lengthAdjust="spacingAndGlyphs" stroke="#b9a55a" stroke-opacity="0.55" stroke-width="5.80" stroke-linejoin="round" transform="rotate(1.205 598.71 888.52) translate(0 884.05) scale(1 0.83) translate(0 -888.52)">)</text>
<text x="598.71" y="888.52" font-size="58.91" font-weight="normal" fill="#160d06" style="letter-spacing:2.439px;white-space:pre" textLength="14.94" lengthAdjust="spacingAndGlyphs" stroke="#160d06" stroke-width="0.6" transform="rotate(1.205 598.71 888.52) translate(0 884.05) scale(1 0.83) translate(0 -888.52)">(</text>
<text x="613.65" y="888.52" font-size="58.91" font-weight="normal" fill="#160d06" style="letter-spacing:2.439px;white-space:pre" textLength="23.84" lengthAdjust="spacingAndGlyphs" stroke="#160d06" stroke-width="0.6" transform="rotate(1.205 598.71 888.52)">g</text>
<text x="637.49" y="888.52" font-size="58.91" font-weight="normal" fill="#160d06" style="letter-spacing:2.439px;white-space:pre" textLength="14.94" lengthAdjust="spacingAndGlyphs" stroke="#160d06" stroke-width="0.6" transform="rotate(1.205 598.71 888.52) translate(0 884.05) scale(1 0.83) translate(0 -888.52)">)</text>
<text x="599.41" y="888.52" font-size="58.91" font-weight="normal" fill="#160d06" style="letter-spacing:2.439px;white-space:pre" textLength="14.94" lengthAdjust="spacingAndGlyphs" stroke="#160d06" stroke-width="0.6" transform="rotate(1.205 598.71 888.52) translate(0 884.05) scale(1 0.83) translate(0 -888.52)">(</text>
<text x="614.35" y="888.52" font-size="58.91" font-weight="normal" fill="#160d06" style="letter-spacing:2.439px;white-space:pre" textLength="23.84" lengthAdjust="spacingAndGlyphs" stroke="#160d06" stroke-width="0.6" transform="rotate(1.205 598.71 888.52)">g</text>
<text x="638.19" y="888.52" font-size="58.91" font-weight="normal" fill="#160d06" style="letter-spacing:2.439px;white-space:pre" textLength="14.94" lengthAdjust="spacingAndGlyphs" stroke="#160d06" stroke-width="0.6" transform="rotate(1.205 598.71 888.52) translate(0 884.05) scale(1 0.83) translate(0 -888.52)">)</text>
<text x="273.56" y="975.10" font-size="58.47" font-weight="bold" fill="none" style="letter-spacing:3.806px;white-space:pre" textLength="283.18" lengthAdjust="spacingAndGlyphs" stroke="#b9a55a" stroke-opacity="0.55" stroke-width="5.90" stroke-linejoin="round" transform="rotate(1.275 273.26 975.10)">CHOLESTEROL</text>
<text x="273.26" y="975.10" font-size="58.47" font-weight="bold" fill="#160d06" style="letter-spacing:3.806px;white-space:pre" textLength="283.18" lengthAdjust="spacingAndGlyphs" stroke="#160d06" stroke-width="0.8" transform="rotate(1.275 273.26 975.10)">CHOLESTEROL</text>
<text x="273.86" y="975.10" font-size="58.47" font-weight="bold" fill="#160d06" style="letter-spacing:3.806px;white-space:pre" textLength="283.18" lengthAdjust="spacingAndGlyphs" stroke="#160d06" stroke-width="0.8" transform="rotate(1.275 273.26 975.10)">CHOLESTEROL</text>
<text x="568.67" y="981.68" font-size="58.47" font-weight="bold" fill="none" style="letter-spacing:3.500px;white-space:pre" textLength="14.86" lengthAdjust="spacingAndGlyphs" stroke="#b9a55a" stroke-opacity="0.55" stroke-width="5.90" stroke-linejoin="round" transform="rotate(1.280 568.37 981.68) translate(0 977.24) scale(1 0.83) translate(0 -981.68)">(</text>
<text x="583.52" y="981.68" font-size="58.47" font-weight="bold" fill="none" style="letter-spacing:3.500px;white-space:pre" textLength="61.25" lengthAdjust="spacingAndGlyphs" stroke="#b9a55a" stroke-opacity="0.55" stroke-width="5.90" stroke-linejoin="round" transform="rotate(1.280 568.37 981.68)">mg</text>
<text x="644.78" y="981.68" font-size="58.47" font-weight="bold" fill="none" style="letter-spacing:3.500px;white-space:pre" textLength="14.86" lengthAdjust="spacingAndGlyphs" stroke="#b9a55a" stroke-opacity="0.55" stroke-width="5.90" stroke-linejoin="round" transform="rotate(1.280 568.37 981.68) translate(0 977.24) scale(1 0.83) translate(0 -981.68)">)</text>
<text x="568.37" y="981.68" font-size="58.47" font-weight="normal" fill="#160d06" style="letter-spacing:3.500px;white-space:pre" textLength="14.86" lengthAdjust="spacingAndGlyphs" stroke="#160d06" stroke-width="0.8" transform="rotate(1.280 568.37 981.68) translate(0 977.24) scale(1 0.83) translate(0 -981.68)">(</text>
<text x="583.22" y="981.68" font-size="58.47" font-weight="bold" fill="#160d06" style="letter-spacing:3.500px;white-space:pre" textLength="61.25" lengthAdjust="spacingAndGlyphs" stroke="#160d06" stroke-width="0.8" transform="rotate(1.280 568.37 981.68)">mg</text>
<text x="644.48" y="981.68" font-size="58.47" font-weight="normal" fill="#160d06" style="letter-spacing:3.500px;white-space:pre" textLength="14.86" lengthAdjust="spacingAndGlyphs" stroke="#160d06" stroke-width="0.8" transform="rotate(1.280 568.37 981.68) translate(0 977.24) scale(1 0.83) translate(0 -981.68)">)</text>
<text x="568.97" y="981.68" font-size="58.47" font-weight="normal" fill="#160d06" style="letter-spacing:3.500px;white-space:pre" textLength="14.86" lengthAdjust="spacingAndGlyphs" stroke="#160d06" stroke-width="0.8" transform="rotate(1.280 568.37 981.68) translate(0 977.24) scale(1 0.83) translate(0 -981.68)">(</text>
<text x="583.82" y="981.68" font-size="58.47" font-weight="bold" fill="#160d06" style="letter-spacing:3.500px;white-space:pre" textLength="61.25" lengthAdjust="spacingAndGlyphs" stroke="#160d06" stroke-width="0.8" transform="rotate(1.280 568.37 981.68)">mg</text>
<text x="645.08" y="981.68" font-size="58.47" font-weight="normal" fill="#160d06" style="letter-spacing:3.500px;white-space:pre" textLength="14.86" lengthAdjust="spacingAndGlyphs" stroke="#160d06" stroke-width="0.8" transform="rotate(1.280 568.37 981.68) translate(0 977.24) scale(1 0.83) translate(0 -981.68)">)</text>
<text x="275.10" y="1067.30" font-size="58.47" font-weight="bold" fill="none" style="letter-spacing:4.068px;white-space:pre" textLength="117.66" lengthAdjust="spacingAndGlyphs" stroke="#b9a55a" stroke-opacity="0.55" stroke-width="5.90" stroke-linejoin="round" transform="rotate(1.349 274.80 1067.30)">TOTAL</text>
<text x="274.80" y="1067.30" font-size="58.47" font-weight="bold" fill="#160d06" style="letter-spacing:4.068px;white-space:pre" textLength="117.66" lengthAdjust="spacingAndGlyphs" stroke="#160d06" stroke-width="0.8" transform="rotate(1.349 274.80 1067.30)">TOTAL</text>
<text x="275.40" y="1067.30" font-size="58.47" font-weight="bold" fill="#160d06" style="letter-spacing:4.068px;white-space:pre" textLength="117.66" lengthAdjust="spacingAndGlyphs" stroke="#160d06" stroke-width="0.8" transform="rotate(1.349 274.80 1067.30)">TOTAL</text>
<text x="405.17" y="1070.39" font-size="58.47" font-weight="bold" fill="none" style="letter-spacing:3.819px;white-space:pre" textLength="337.89" lengthAdjust="spacingAndGlyphs" stroke="#b9a55a" stroke-opacity="0.55" stroke-width="5.90" stroke-linejoin="round" transform="rotate(1.351 404.87 1070.39)">CARBOHYDRATES</text>
<text x="404.87" y="1070.39" font-size="58.47" font-weight="bold" fill="#160d06" style="letter-spacing:3.819px;white-space:pre" textLength="337.89" lengthAdjust="spacingAndGlyphs" stroke="#160d06" stroke-width="0.8" transform="rotate(1.351 404.87 1070.39)">CARBOHYDRATES</text>
<text x="405.47" y="1070.39" font-size="58.47" font-weight="bold" fill="#160d06" style="letter-spacing:3.819px;white-space:pre" textLength="337.89" lengthAdjust="spacingAndGlyphs" stroke="#160d06" stroke-width="0.8" transform="rotate(1.351 404.87 1070.39)">CARBOHYDRATES</text>
<text x="754.54" y="1078.63" font-size="58.47" font-weight="bold" fill="none" style="letter-spacing:2.994px;white-space:pre" textLength="15.65" lengthAdjust="spacingAndGlyphs" stroke="#b9a55a" stroke-opacity="0.55" stroke-width="5.90" stroke-linejoin="round" transform="rotate(1.358 754.24 1078.63) translate(0 1074.19) scale(1 0.83) translate(0 -1078.63)">(</text>
<text x="770.19" y="1078.63" font-size="58.47" font-weight="bold" fill="none" style="letter-spacing:2.994px;white-space:pre" textLength="26.97" lengthAdjust="spacingAndGlyphs" stroke="#b9a55a" stroke-opacity="0.55" stroke-width="5.90" stroke-linejoin="round" transform="rotate(1.358 754.24 1078.63)">g</text>
<text x="797.17" y="1078.63" font-size="58.47" font-weight="bold" fill="none" style="letter-spacing:2.994px;white-space:pre" textLength="15.65" lengthAdjust="spacingAndGlyphs" stroke="#b9a55a" stroke-opacity="0.55" stroke-width="5.90" stroke-linejoin="round" transform="rotate(1.358 754.24 1078.63) translate(0 1074.19) scale(1 0.83) translate(0 -1078.63)">)</text>
<text x="754.24" y="1078.63" font-size="58.47" font-weight="normal" fill="#160d06" style="letter-spacing:2.994px;white-space:pre" textLength="15.65" lengthAdjust="spacingAndGlyphs" stroke="#160d06" stroke-width="0.8" transform="rotate(1.358 754.24 1078.63) translate(0 1074.19) scale(1 0.83) translate(0 -1078.63)">(</text>
<text x="769.89" y="1078.63" font-size="58.47" font-weight="bold" fill="#160d06" style="letter-spacing:2.994px;white-space:pre" textLength="26.97" lengthAdjust="spacingAndGlyphs" stroke="#160d06" stroke-width="0.8" transform="rotate(1.358 754.24 1078.63)">g</text>
<text x="796.87" y="1078.63" font-size="58.47" font-weight="normal" fill="#160d06" style="letter-spacing:2.994px;white-space:pre" textLength="15.65" lengthAdjust="spacingAndGlyphs" stroke="#160d06" stroke-width="0.8" transform="rotate(1.358 754.24 1078.63) translate(0 1074.19) scale(1 0.83) translate(0 -1078.63)">)</text>
<text x="754.84" y="1078.63" font-size="58.47" font-weight="normal" fill="#160d06" style="letter-spacing:2.994px;white-space:pre" textLength="15.65" lengthAdjust="spacingAndGlyphs" stroke="#160d06" stroke-width="0.8" transform="rotate(1.358 754.24 1078.63) translate(0 1074.19) scale(1 0.83) translate(0 -1078.63)">(</text>
<text x="770.49" y="1078.63" font-size="58.47" font-weight="bold" fill="#160d06" style="letter-spacing:2.994px;white-space:pre" textLength="26.97" lengthAdjust="spacingAndGlyphs" stroke="#160d06" stroke-width="0.8" transform="rotate(1.358 754.24 1078.63)">g</text>
<text x="797.47" y="1078.63" font-size="58.47" font-weight="normal" fill="#160d06" style="letter-spacing:2.994px;white-space:pre" textLength="15.65" lengthAdjust="spacingAndGlyphs" stroke="#160d06" stroke-width="0.8" transform="rotate(1.358 754.24 1078.63) translate(0 1074.19) scale(1 0.83) translate(0 -1078.63)">)</text>
<text x="277.29" y="1159.80" font-size="53.79" font-weight="normal" fill="none" style="letter-spacing:3.209px;white-space:pre" textLength="35.01" lengthAdjust="spacingAndGlyphs" stroke="#b9a55a" stroke-opacity="0.55" stroke-width="5.80" stroke-linejoin="round" transform="rotate(1.424 276.94 1159.80)">of</text>
<text x="276.94" y="1159.80" font-size="53.79" font-weight="normal" fill="#160d06" style="letter-spacing:3.209px;white-space:pre" textLength="35.01" lengthAdjust="spacingAndGlyphs" stroke="#160d06" stroke-width="0.6" transform="rotate(1.424 276.94 1159.80)">of</text>
<text x="277.64" y="1159.80" font-size="53.79" font-weight="normal" fill="#160d06" style="letter-spacing:3.209px;white-space:pre" textLength="35.01" lengthAdjust="spacingAndGlyphs" stroke="#160d06" stroke-width="0.6" transform="rotate(1.424 276.94 1159.80)">of</text>
<text x="321.96" y="1160.87" font-size="53.79" font-weight="normal" fill="none" style="letter-spacing:2.526px;white-space:pre" textLength="107.04" lengthAdjust="spacingAndGlyphs" stroke="#b9a55a" stroke-opacity="0.55" stroke-width="5.80" stroke-linejoin="round" transform="rotate(1.425 321.61 1160.87)">which</text>
<text x="321.61" y="1160.87" font-size="53.79" font-weight="normal" fill="#160d06" style="letter-spacing:2.526px;white-space:pre" textLength="107.04" lengthAdjust="spacingAndGlyphs" stroke="#160d06" stroke-width="0.6" transform="rotate(1.425 321.61 1160.87)">which</text>
<text x="322.31" y="1160.87" font-size="53.79" font-weight="normal" fill="#160d06" style="letter-spacing:2.526px;white-space:pre" textLength="107.04" lengthAdjust="spacingAndGlyphs" stroke="#160d06" stroke-width="0.6" transform="rotate(1.425 321.61 1160.87)">which</text>
<text x="440.28" y="1163.85" font-size="53.79" font-weight="normal" fill="none" style="letter-spacing:2.639px;white-space:pre" textLength="101.44" lengthAdjust="spacingAndGlyphs" stroke="#b9a55a" stroke-opacity="0.55" stroke-width="5.80" stroke-linejoin="round" transform="rotate(1.427 439.93 1163.85)">Sugar</text>
<text x="439.93" y="1163.85" font-size="53.79" font-weight="normal" fill="#160d06" style="letter-spacing:2.639px;white-space:pre" textLength="101.44" lengthAdjust="spacingAndGlyphs" stroke="#160d06" stroke-width="0.6" transform="rotate(1.427 439.93 1163.85)">Sugar</text>
<text x="440.63" y="1163.85" font-size="53.79" font-weight="normal" fill="#160d06" style="letter-spacing:2.639px;white-space:pre" textLength="101.44" lengthAdjust="spacingAndGlyphs" stroke="#160d06" stroke-width="0.6" transform="rotate(1.427 439.93 1163.85)">Sugar</text>
<text x="556.71" y="1166.77" font-size="53.79" font-weight="normal" fill="none" style="letter-spacing:2.227px;white-space:pre" textLength="15.40" lengthAdjust="spacingAndGlyphs" stroke="#b9a55a" stroke-opacity="0.55" stroke-width="5.80" stroke-linejoin="round" transform="rotate(1.429 556.36 1166.77) translate(0 1162.69) scale(1 0.83) translate(0 -1166.77)">(</text>
<text x="572.11" y="1166.77" font-size="53.79" font-weight="normal" fill="none" style="letter-spacing:2.227px;white-space:pre" textLength="24.57" lengthAdjust="spacingAndGlyphs" stroke="#b9a55a" stroke-opacity="0.55" stroke-width="5.80" stroke-linejoin="round" transform="rotate(1.429 556.36 1166.77)">g</text>
<text x="596.68" y="1166.77" font-size="53.79" font-weight="normal" fill="none" style="letter-spacing:2.227px;white-space:pre" textLength="15.40" lengthAdjust="spacingAndGlyphs" stroke="#b9a55a" stroke-opacity="0.55" stroke-width="5.80" stroke-linejoin="round" transform="rotate(1.429 556.36 1166.77) translate(0 1162.69) scale(1 0.83) translate(0 -1166.77)">)</text>
<text x="556.36" y="1166.77" font-size="53.79" font-weight="normal" fill="#160d06" style="letter-spacing:2.227px;white-space:pre" textLength="15.40" lengthAdjust="spacingAndGlyphs" stroke="#160d06" stroke-width="0.6" transform="rotate(1.429 556.36 1166.77) translate(0 1162.69) scale(1 0.83) translate(0 -1166.77)">(</text>
<text x="571.76" y="1166.77" font-size="53.79" font-weight="normal" fill="#160d06" style="letter-spacing:2.227px;white-space:pre" textLength="24.57" lengthAdjust="spacingAndGlyphs" stroke="#160d06" stroke-width="0.6" transform="rotate(1.429 556.36 1166.77)">g</text>
<text x="596.33" y="1166.77" font-size="53.79" font-weight="normal" fill="#160d06" style="letter-spacing:2.227px;white-space:pre" textLength="15.40" lengthAdjust="spacingAndGlyphs" stroke="#160d06" stroke-width="0.6" transform="rotate(1.429 556.36 1166.77) translate(0 1162.69) scale(1 0.83) translate(0 -1166.77)">)</text>
<text x="557.06" y="1166.77" font-size="53.79" font-weight="normal" fill="#160d06" style="letter-spacing:2.227px;white-space:pre" textLength="15.40" lengthAdjust="spacingAndGlyphs" stroke="#160d06" stroke-width="0.6" transform="rotate(1.429 556.36 1166.77) translate(0 1162.69) scale(1 0.83) translate(0 -1166.77)">(</text>
<text x="572.46" y="1166.77" font-size="53.79" font-weight="normal" fill="#160d06" style="letter-spacing:2.227px;white-space:pre" textLength="24.57" lengthAdjust="spacingAndGlyphs" stroke="#160d06" stroke-width="0.6" transform="rotate(1.429 556.36 1166.77)">g</text>
<text x="597.03" y="1166.77" font-size="53.79" font-weight="normal" fill="#160d06" style="letter-spacing:2.227px;white-space:pre" textLength="15.40" lengthAdjust="spacingAndGlyphs" stroke="#160d06" stroke-width="0.6" transform="rotate(1.429 556.36 1166.77) translate(0 1162.69) scale(1 0.83) translate(0 -1166.77)">)</text>
<text x="280.34" y="1252.60" font-size="59.64" font-weight="normal" fill="none" style="letter-spacing:3.170px;white-space:pre" textLength="108.47" lengthAdjust="spacingAndGlyphs" stroke="#b9a55a" stroke-opacity="0.55" stroke-width="5.80" stroke-linejoin="round" transform="rotate(1.499 279.99 1252.60)">Added</text>
<text x="279.99" y="1252.60" font-size="59.64" font-weight="normal" fill="#160d06" style="letter-spacing:3.170px;white-space:pre" textLength="108.47" lengthAdjust="spacingAndGlyphs" stroke="#160d06" stroke-width="0.6" transform="rotate(1.499 279.99 1252.60)">Added</text>
<text x="280.69" y="1252.60" font-size="59.64" font-weight="normal" fill="#160d06" style="letter-spacing:3.170px;white-space:pre" textLength="108.47" lengthAdjust="spacingAndGlyphs" stroke="#160d06" stroke-width="0.6" transform="rotate(1.499 279.99 1252.60)">Added</text>
<text x="404.85" y="1255.88" font-size="59.64" font-weight="normal" fill="none" style="letter-spacing:2.758px;white-space:pre" textLength="96.84" lengthAdjust="spacingAndGlyphs" stroke="#b9a55a" stroke-opacity="0.55" stroke-width="5.80" stroke-linejoin="round" transform="rotate(1.501 404.50 1255.88)">sugar</text>
<text x="404.50" y="1255.88" font-size="59.64" font-weight="normal" fill="#160d06" style="letter-spacing:2.758px;white-space:pre" textLength="96.84" lengthAdjust="spacingAndGlyphs" stroke="#160d06" stroke-width="0.6" transform="rotate(1.501 404.50 1255.88)">sugar</text>
<text x="405.20" y="1255.88" font-size="59.64" font-weight="normal" fill="#160d06" style="letter-spacing:2.758px;white-space:pre" textLength="96.84" lengthAdjust="spacingAndGlyphs" stroke="#160d06" stroke-width="0.6" transform="rotate(1.501 404.50 1255.88)">sugar</text>
<text x="516.72" y="1258.85" font-size="59.64" font-weight="normal" fill="none" style="letter-spacing:2.469px;white-space:pre" textLength="15.16" lengthAdjust="spacingAndGlyphs" stroke="#b9a55a" stroke-opacity="0.55" stroke-width="5.80" stroke-linejoin="round" transform="rotate(1.504 516.37 1258.85) translate(0 1254.32) scale(1 0.83) translate(0 -1258.85)">(</text>
<text x="531.88" y="1258.85" font-size="59.64" font-weight="normal" fill="none" style="letter-spacing:2.469px;white-space:pre" textLength="24.20" lengthAdjust="spacingAndGlyphs" stroke="#b9a55a" stroke-opacity="0.55" stroke-width="5.80" stroke-linejoin="round" transform="rotate(1.504 516.37 1258.85)">g</text>
<text x="556.08" y="1258.85" font-size="59.64" font-weight="normal" fill="none" style="letter-spacing:2.469px;white-space:pre" textLength="15.16" lengthAdjust="spacingAndGlyphs" stroke="#b9a55a" stroke-opacity="0.55" stroke-width="5.80" stroke-linejoin="round" transform="rotate(1.504 516.37 1258.85) translate(0 1254.32) scale(1 0.83) translate(0 -1258.85)">)</text>
<text x="516.37" y="1258.85" font-size="59.64" font-weight="normal" fill="#160d06" style="letter-spacing:2.469px;white-space:pre" textLength="15.16" lengthAdjust="spacingAndGlyphs" stroke="#160d06" stroke-width="0.6" transform="rotate(1.504 516.37 1258.85) translate(0 1254.32) scale(1 0.83) translate(0 -1258.85)">(</text>
<text x="531.53" y="1258.85" font-size="59.64" font-weight="normal" fill="#160d06" style="letter-spacing:2.469px;white-space:pre" textLength="24.20" lengthAdjust="spacingAndGlyphs" stroke="#160d06" stroke-width="0.6" transform="rotate(1.504 516.37 1258.85)">g</text>
<text x="555.73" y="1258.85" font-size="59.64" font-weight="normal" fill="#160d06" style="letter-spacing:2.469px;white-space:pre" textLength="15.16" lengthAdjust="spacingAndGlyphs" stroke="#160d06" stroke-width="0.6" transform="rotate(1.504 516.37 1258.85) translate(0 1254.32) scale(1 0.83) translate(0 -1258.85)">)</text>
<text x="517.07" y="1258.85" font-size="59.64" font-weight="normal" fill="#160d06" style="letter-spacing:2.469px;white-space:pre" textLength="15.16" lengthAdjust="spacingAndGlyphs" stroke="#160d06" stroke-width="0.6" transform="rotate(1.504 516.37 1258.85) translate(0 1254.32) scale(1 0.83) translate(0 -1258.85)">(</text>
<text x="532.23" y="1258.85" font-size="59.64" font-weight="normal" fill="#160d06" style="letter-spacing:2.469px;white-space:pre" textLength="24.20" lengthAdjust="spacingAndGlyphs" stroke="#160d06" stroke-width="0.6" transform="rotate(1.504 516.37 1258.85)">g</text>
<text x="556.43" y="1258.85" font-size="59.64" font-weight="normal" fill="#160d06" style="letter-spacing:2.469px;white-space:pre" textLength="15.16" lengthAdjust="spacingAndGlyphs" stroke="#160d06" stroke-width="0.6" transform="rotate(1.504 516.37 1258.85) translate(0 1254.32) scale(1 0.83) translate(0 -1258.85)">)</text>
<text x="280.05" y="1345.20" font-size="58.18" font-weight="normal" fill="none" style="letter-spacing:2.250px;white-space:pre" textLength="128.95" lengthAdjust="spacingAndGlyphs" stroke="#b9a55a" stroke-opacity="0.55" stroke-width="5.80" stroke-linejoin="round" transform="rotate(1.573 279.70 1345.20)">Dietary</text>
<text x="279.70" y="1345.20" font-size="58.18" font-weight="normal" fill="#160d06" style="letter-spacing:2.250px;white-space:pre" textLength="128.95" lengthAdjust="spacingAndGlyphs" stroke="#160d06" stroke-width="0.6" transform="rotate(1.573 279.70 1345.20)">Dietary</text>
<text x="280.40" y="1345.20" font-size="58.18" font-weight="normal" fill="#160d06" style="letter-spacing:2.250px;white-space:pre" textLength="128.95" lengthAdjust="spacingAndGlyphs" stroke="#160d06" stroke-width="0.6" transform="rotate(1.573 279.70 1345.20)">Dietary</text>
<text x="417.25" y="1348.90" font-size="58.18" font-weight="normal" fill="none" style="letter-spacing:2.097px;white-space:pre" textLength="85.56" lengthAdjust="spacingAndGlyphs" stroke="#b9a55a" stroke-opacity="0.55" stroke-width="5.80" stroke-linejoin="round" transform="rotate(1.576 416.90 1348.90)">fiber</text>
<text x="416.90" y="1348.90" font-size="58.18" font-weight="normal" fill="#160d06" style="letter-spacing:2.097px;white-space:pre" textLength="85.56" lengthAdjust="spacingAndGlyphs" stroke="#160d06" stroke-width="0.6" transform="rotate(1.576 416.90 1348.90)">fiber</text>
<text x="417.60" y="1348.90" font-size="58.18" font-weight="normal" fill="#160d06" style="letter-spacing:2.097px;white-space:pre" textLength="85.56" lengthAdjust="spacingAndGlyphs" stroke="#160d06" stroke-width="0.6" transform="rotate(1.576 416.90 1348.90)">fiber</text>
<text x="516.73" y="1351.69" font-size="58.18" font-weight="normal" fill="none" style="letter-spacing:2.409px;white-space:pre" textLength="15.16" lengthAdjust="spacingAndGlyphs" stroke="#b9a55a" stroke-opacity="0.55" stroke-width="5.80" stroke-linejoin="round" transform="rotate(1.579 516.38 1351.69) translate(0 1347.27) scale(1 0.83) translate(0 -1351.69)">(</text>
<text x="531.89" y="1351.69" font-size="58.18" font-weight="normal" fill="none" style="letter-spacing:2.409px;white-space:pre" textLength="24.19" lengthAdjust="spacingAndGlyphs" stroke="#b9a55a" stroke-opacity="0.55" stroke-width="5.80" stroke-linejoin="round" transform="rotate(1.579 516.38 1351.69)">g</text>
<text x="556.08" y="1351.69" font-size="58.18" font-weight="normal" fill="none" style="letter-spacing:2.409px;white-space:pre" textLength="15.16" lengthAdjust="spacingAndGlyphs" stroke="#b9a55a" stroke-opacity="0.55" stroke-width="5.80" stroke-linejoin="round" transform="rotate(1.579 516.38 1351.69) translate(0 1347.27) scale(1 0.83) translate(0 -1351.69)">)</text>
<text x="516.38" y="1351.69" font-size="58.18" font-weight="normal" fill="#160d06" style="letter-spacing:2.409px;white-space:pre" textLength="15.16" lengthAdjust="spacingAndGlyphs" stroke="#160d06" stroke-width="0.6" transform="rotate(1.579 516.38 1351.69) translate(0 1347.27) scale(1 0.83) translate(0 -1351.69)">(</text>
<text x="531.54" y="1351.69" font-size="58.18" font-weight="normal" fill="#160d06" style="letter-spacing:2.409px;white-space:pre" textLength="24.19" lengthAdjust="spacingAndGlyphs" stroke="#160d06" stroke-width="0.6" transform="rotate(1.579 516.38 1351.69)">g</text>
<text x="555.73" y="1351.69" font-size="58.18" font-weight="normal" fill="#160d06" style="letter-spacing:2.409px;white-space:pre" textLength="15.16" lengthAdjust="spacingAndGlyphs" stroke="#160d06" stroke-width="0.6" transform="rotate(1.579 516.38 1351.69) translate(0 1347.27) scale(1 0.83) translate(0 -1351.69)">)</text>
<text x="517.08" y="1351.69" font-size="58.18" font-weight="normal" fill="#160d06" style="letter-spacing:2.409px;white-space:pre" textLength="15.16" lengthAdjust="spacingAndGlyphs" stroke="#160d06" stroke-width="0.6" transform="rotate(1.579 516.38 1351.69) translate(0 1347.27) scale(1 0.83) translate(0 -1351.69)">(</text>
<text x="532.24" y="1351.69" font-size="58.18" font-weight="normal" fill="#160d06" style="letter-spacing:2.409px;white-space:pre" textLength="24.19" lengthAdjust="spacingAndGlyphs" stroke="#160d06" stroke-width="0.6" transform="rotate(1.579 516.38 1351.69)">g</text>
<text x="556.43" y="1351.69" font-size="58.18" font-weight="normal" fill="#160d06" style="letter-spacing:2.409px;white-space:pre" textLength="15.16" lengthAdjust="spacingAndGlyphs" stroke="#160d06" stroke-width="0.6" transform="rotate(1.579 516.38 1351.69) translate(0 1347.27) scale(1 0.83) translate(0 -1351.69)">)</text>
<text x="282.37" y="1437.60" font-size="59.20" font-weight="bold" fill="none" style="letter-spacing:3.698px;white-space:pre" textLength="170.94" lengthAdjust="spacingAndGlyphs" stroke="#b9a55a" stroke-opacity="0.55" stroke-width="5.90" stroke-linejoin="round" transform="rotate(1.648 282.07 1437.60)">PROTEIN</text>
<text x="282.07" y="1437.60" font-size="59.20" font-weight="bold" fill="#160d06" style="letter-spacing:3.698px;white-space:pre" textLength="170.94" lengthAdjust="spacingAndGlyphs" stroke="#160d06" stroke-width="0.8" transform="rotate(1.648 282.07 1437.60)">PROTEIN</text>
<text x="282.67" y="1437.60" font-size="59.20" font-weight="bold" fill="#160d06" style="letter-spacing:3.698px;white-space:pre" textLength="170.94" lengthAdjust="spacingAndGlyphs" stroke="#160d06" stroke-width="0.8" transform="rotate(1.648 282.07 1437.60)">PROTEIN</text>
<text x="463.87" y="1442.81" font-size="59.20" font-weight="bold" fill="none" style="letter-spacing:3.031px;white-space:pre" textLength="15.33" lengthAdjust="spacingAndGlyphs" stroke="#b9a55a" stroke-opacity="0.55" stroke-width="5.90" stroke-linejoin="round" transform="rotate(1.652 463.57 1442.81) translate(0 1438.32) scale(1 0.83) translate(0 -1442.81)">(</text>
<text x="479.20" y="1442.81" font-size="59.20" font-weight="bold" fill="none" style="letter-spacing:3.031px;white-space:pre" textLength="26.41" lengthAdjust="spacingAndGlyphs" stroke="#b9a55a" stroke-opacity="0.55" stroke-width="5.90" stroke-linejoin="round" transform="rotate(1.652 463.57 1442.81)">g</text>
<text x="505.61" y="1442.81" font-size="59.20" font-weight="bold" fill="none" style="letter-spacing:3.031px;white-space:pre" textLength="15.33" lengthAdjust="spacingAndGlyphs" stroke="#b9a55a" stroke-opacity="0.55" stroke-width="5.90" stroke-linejoin="round" transform="rotate(1.652 463.57 1442.81) translate(0 1438.32) scale(1 0.83) translate(0 -1442.81)">)</text>
<text x="463.57" y="1442.81" font-size="59.20" font-weight="normal" fill="#160d06" style="letter-spacing:3.031px;white-space:pre" textLength="15.33" lengthAdjust="spacingAndGlyphs" stroke="#160d06" stroke-width="0.8" transform="rotate(1.652 463.57 1442.81) translate(0 1438.32) scale(1 0.83) translate(0 -1442.81)">(</text>
<text x="478.90" y="1442.81" font-size="59.20" font-weight="bold" fill="#160d06" style="letter-spacing:3.031px;white-space:pre" textLength="26.41" lengthAdjust="spacingAndGlyphs" stroke="#160d06" stroke-width="0.8" transform="rotate(1.652 463.57 1442.81)">g</text>
<text x="505.31" y="1442.81" font-size="59.20" font-weight="normal" fill="#160d06" style="letter-spacing:3.031px;white-space:pre" textLength="15.33" lengthAdjust="spacingAndGlyphs" stroke="#160d06" stroke-width="0.8" transform="rotate(1.652 463.57 1442.81) translate(0 1438.32) scale(1 0.83) translate(0 -1442.81)">)</text>
<text x="464.17" y="1442.81" font-size="59.20" font-weight="normal" fill="#160d06" style="letter-spacing:3.031px;white-space:pre" textLength="15.33" lengthAdjust="spacingAndGlyphs" stroke="#160d06" stroke-width="0.8" transform="rotate(1.652 463.57 1442.81) translate(0 1438.32) scale(1 0.83) translate(0 -1442.81)">(</text>
<text x="479.50" y="1442.81" font-size="59.20" font-weight="bold" fill="#160d06" style="letter-spacing:3.031px;white-space:pre" textLength="26.41" lengthAdjust="spacingAndGlyphs" stroke="#160d06" stroke-width="0.8" transform="rotate(1.652 463.57 1442.81)">g</text>
<text x="505.91" y="1442.81" font-size="59.20" font-weight="normal" fill="#160d06" style="letter-spacing:3.031px;white-space:pre" textLength="15.33" lengthAdjust="spacingAndGlyphs" stroke="#160d06" stroke-width="0.8" transform="rotate(1.652 463.57 1442.81) translate(0 1438.32) scale(1 0.83) translate(0 -1442.81)">)</text>
<text x="1023.70" y="428.17" font-size="58.73" font-weight="bold" fill="none" style="letter-spacing:5.302px;white-space:pre" textLength="78.29" lengthAdjust="spacingAndGlyphs" stroke="#b9a55a" stroke-opacity="0.55" stroke-width="5.30" stroke-linejoin="round" transform="rotate(0.833 1023.60 428.17)">435</text>
<text x="1023.60" y="428.17" font-size="58.73" font-weight="bold" fill="#160d06" style="letter-spacing:5.302px;white-space:pre" textLength="78.29" lengthAdjust="spacingAndGlyphs" stroke="#160d06" stroke-width="0.6" transform="rotate(0.833 1023.60 428.17)">435</text>
<text x="1023.80" y="428.17" font-size="58.73" font-weight="bold" fill="#160d06" style="letter-spacing:5.302px;white-space:pre" textLength="78.29" lengthAdjust="spacingAndGlyphs" stroke="#160d06" stroke-width="0.6" transform="rotate(0.833 1023.60 428.17)">435</text>
<text x="1198.63" y="430.25" font-size="60.28" font-weight="bold" fill="none" style="letter-spacing:5.241px;white-space:pre" textLength="76.12" lengthAdjust="spacingAndGlyphs" stroke="#b9a55a" stroke-opacity="0.55" stroke-width="5.30" stroke-linejoin="round" transform="rotate(0.835 1198.53 430.25)">130</text>
<text x="1198.53" y="430.25" font-size="60.28" font-weight="bold" fill="#160d06" style="letter-spacing:5.241px;white-space:pre" textLength="76.12" lengthAdjust="spacingAndGlyphs" stroke="#160d06" stroke-width="0.6" transform="rotate(0.835 1198.53 430.25)">130</text>
<text x="1198.73" y="430.25" font-size="60.28" font-weight="bold" fill="#160d06" style="letter-spacing:5.241px;white-space:pre" textLength="76.12" lengthAdjust="spacingAndGlyphs" stroke="#160d06" stroke-width="0.6" transform="rotate(0.835 1198.53 430.25)">130</text>
<text x="1016.84" y="522.42" font-size="57.53" font-weight="bold" fill="none" style="letter-spacing:3.830px;white-space:pre" textLength="85.22" lengthAdjust="spacingAndGlyphs" stroke="#b9a55a" stroke-opacity="0.55" stroke-width="5.30" stroke-linejoin="round" transform="rotate(0.909 1016.74 522.42)">11.8</text>
<text x="1016.74" y="522.42" font-size="57.53" font-weight="bold" fill="#160d06" style="letter-spacing:3.830px;white-space:pre" textLength="85.22" lengthAdjust="spacingAndGlyphs" stroke="#160d06" stroke-width="0.6" transform="rotate(0.909 1016.74 522.42)">11.8</text>
<text x="1016.94" y="522.42" font-size="57.53" font-weight="bold" fill="#160d06" style="letter-spacing:3.830px;white-space:pre" textLength="85.22" lengthAdjust="spacingAndGlyphs" stroke="#160d06" stroke-width="0.6" transform="rotate(0.909 1016.74 522.42)">11.8</text>
<text x="1212.43" y="525.36" font-size="58.87" font-weight="bold" fill="none" style="letter-spacing:4.383px;white-space:pre" textLength="62.21" lengthAdjust="spacingAndGlyphs" stroke="#b9a55a" stroke-opacity="0.55" stroke-width="5.30" stroke-linejoin="round" transform="rotate(0.911 1212.33 525.36)">3.5</text>
<text x="1212.33" y="525.36" font-size="58.87" font-weight="bold" fill="#160d06" style="letter-spacing:4.383px;white-space:pre" textLength="62.21" lengthAdjust="spacingAndGlyphs" stroke="#160d06" stroke-width="0.6" transform="rotate(0.911 1212.33 525.36)">3.5</text>
<text x="1212.53" y="525.36" font-size="58.87" font-weight="bold" fill="#160d06" style="letter-spacing:4.383px;white-space:pre" textLength="62.21" lengthAdjust="spacingAndGlyphs" stroke="#160d06" stroke-width="0.6" transform="rotate(0.911 1212.33 525.36)">3.5</text>
<text x="1044.49" y="617.41" font-size="58.94" font-weight="normal" fill="none" style="letter-spacing:2.939px;white-space:pre" textLength="57.95" lengthAdjust="spacingAndGlyphs" stroke="#b9a55a" stroke-opacity="0.55" stroke-width="5.80" stroke-linejoin="round" transform="rotate(0.986 1044.14 617.41)">4.8</text>
<text x="1044.14" y="617.41" font-size="58.94" font-weight="normal" fill="#160d06" style="letter-spacing:2.939px;white-space:pre" textLength="57.95" lengthAdjust="spacingAndGlyphs" stroke="#160d06" stroke-width="0.6" transform="rotate(0.986 1044.14 617.41)">4.8</text>
<text x="1044.84" y="617.41" font-size="58.94" font-weight="normal" fill="#160d06" style="letter-spacing:2.939px;white-space:pre" textLength="57.95" lengthAdjust="spacingAndGlyphs" stroke="#160d06" stroke-width="0.6" transform="rotate(0.986 1044.14 617.41)">4.8</text>
<text x="1217.12" y="620.50" font-size="59.93" font-weight="normal" fill="none" style="letter-spacing:2.876px;white-space:pre" textLength="57.66" lengthAdjust="spacingAndGlyphs" stroke="#b9a55a" stroke-opacity="0.55" stroke-width="5.80" stroke-linejoin="round" transform="rotate(0.988 1216.77 620.50)">1.5</text>
<text x="1216.77" y="620.50" font-size="59.93" font-weight="normal" fill="#160d06" style="letter-spacing:2.876px;white-space:pre" textLength="57.66" lengthAdjust="spacingAndGlyphs" stroke="#160d06" stroke-width="0.6" transform="rotate(0.988 1216.77 620.50)">1.5</text>
<text x="1217.47" y="620.50" font-size="59.93" font-weight="normal" fill="#160d06" style="letter-spacing:2.876px;white-space:pre" textLength="57.66" lengthAdjust="spacingAndGlyphs" stroke="#160d06" stroke-width="0.6" transform="rotate(0.988 1216.77 620.50)">1.5</text>
<text x="1046.52" y="712.51" font-size="59.08" font-weight="normal" fill="none" style="letter-spacing:2.918px;white-space:pre" textLength="58.55" lengthAdjust="spacingAndGlyphs" stroke="#b9a55a" stroke-opacity="0.55" stroke-width="5.80" stroke-linejoin="round" transform="rotate(1.063 1046.17 712.51)">5.0</text>
<text x="1046.17" y="712.51" font-size="59.08" font-weight="normal" fill="#160d06" style="letter-spacing:2.918px;white-space:pre" textLength="58.55" lengthAdjust="spacingAndGlyphs" stroke="#160d06" stroke-width="0.6" transform="rotate(1.063 1046.17 712.51)">5.0</text>
<text x="1046.87" y="712.51" font-size="59.08" font-weight="normal" fill="#160d06" style="letter-spacing:2.918px;white-space:pre" textLength="58.55" lengthAdjust="spacingAndGlyphs" stroke="#160d06" stroke-width="0.6" transform="rotate(1.063 1046.17 712.51)">5.0</text>
<text x="1217.62" y="713.53" font-size="57.06" font-weight="normal" fill="none" style="letter-spacing:2.738px;white-space:pre" textLength="60.08" lengthAdjust="spacingAndGlyphs" stroke="#b9a55a" stroke-opacity="0.55" stroke-width="5.80" stroke-linejoin="round" transform="rotate(1.063 1217.27 713.53)">1.5</text>
<text x="1217.27" y="713.53" font-size="57.06" font-weight="normal" fill="#160d06" style="letter-spacing:2.738px;white-space:pre" textLength="60.08" lengthAdjust="spacingAndGlyphs" stroke="#160d06" stroke-width="0.6" transform="rotate(1.063 1217.27 713.53)">1.5</text>
<text x="1217.97" y="713.53" font-size="57.06" font-weight="normal" fill="#160d06" style="letter-spacing:2.738px;white-space:pre" textLength="60.08" lengthAdjust="spacingAndGlyphs" stroke="#160d06" stroke-width="0.6" transform="rotate(1.063 1217.27 713.53)">1.5</text>
<text x="1049.46" y="805.51" font-size="59.08" font-weight="normal" fill="none" style="letter-spacing:2.824px;white-space:pre" textLength="56.74" lengthAdjust="spacingAndGlyphs" stroke="#b9a55a" stroke-opacity="0.55" stroke-width="5.80" stroke-linejoin="round" transform="rotate(1.138 1049.11 805.51)">1.9</text>
<text x="1049.11" y="805.51" font-size="59.08" font-weight="normal" fill="#160d06" style="letter-spacing:2.824px;white-space:pre" textLength="56.74" lengthAdjust="spacingAndGlyphs" stroke="#160d06" stroke-width="0.6" transform="rotate(1.138 1049.11 805.51)">1.9</text>
<text x="1049.81" y="805.51" font-size="59.08" font-weight="normal" fill="#160d06" style="letter-spacing:2.824px;white-space:pre" textLength="56.74" lengthAdjust="spacingAndGlyphs" stroke="#160d06" stroke-width="0.6" transform="rotate(1.138 1049.11 805.51)">1.9</text>
<text x="1216.94" y="808.61" font-size="59.22" font-weight="normal" fill="none" style="letter-spacing:2.914px;white-space:pre" textLength="62.12" lengthAdjust="spacingAndGlyphs" stroke="#b9a55a" stroke-opacity="0.55" stroke-width="5.80" stroke-linejoin="round" transform="rotate(1.140 1216.59 808.61)">0.6</text>
<text x="1216.59" y="808.61" font-size="59.22" font-weight="normal" fill="#160d06" style="letter-spacing:2.914px;white-space:pre" textLength="62.12" lengthAdjust="spacingAndGlyphs" stroke="#160d06" stroke-width="0.6" transform="rotate(1.140 1216.59 808.61)">0.6</text>
<text x="1217.29" y="808.61" font-size="59.22" font-weight="normal" fill="#160d06" style="letter-spacing:2.914px;white-space:pre" textLength="62.12" lengthAdjust="spacingAndGlyphs" stroke="#160d06" stroke-width="0.6" transform="rotate(1.140 1216.59 808.61)">0.6</text>
<text x="1083.47" y="899.51" font-size="59.08" font-weight="normal" fill="none" style="letter-spacing:0.000px;white-space:pre" textLength="25.21" lengthAdjust="spacingAndGlyphs" stroke="#b9a55a" stroke-opacity="0.55" stroke-width="5.80" stroke-linejoin="round" transform="rotate(1.214 1083.12 899.51)">0</text>
<text x="1083.12" y="899.51" font-size="59.08" font-weight="normal" fill="#160d06" style="letter-spacing:0.000px;white-space:pre" textLength="25.21" lengthAdjust="spacingAndGlyphs" stroke="#160d06" stroke-width="0.6" transform="rotate(1.214 1083.12 899.51)">0</text>
<text x="1083.82" y="899.51" font-size="59.08" font-weight="normal" fill="#160d06" style="letter-spacing:0.000px;white-space:pre" textLength="25.21" lengthAdjust="spacingAndGlyphs" stroke="#160d06" stroke-width="0.6" transform="rotate(1.214 1083.12 899.51)">0</text>
<text x="1254.03" y="903.59" font-size="60.64" font-weight="normal" fill="none" style="letter-spacing:0.000px;white-space:pre" textLength="24.08" lengthAdjust="spacingAndGlyphs" stroke="#b9a55a" stroke-opacity="0.55" stroke-width="5.80" stroke-linejoin="round" transform="rotate(1.217 1253.68 903.59)">0</text>
<text x="1253.68" y="903.59" font-size="60.64" font-weight="normal" fill="#160d06" style="letter-spacing:0.000px;white-space:pre" textLength="24.08" lengthAdjust="spacingAndGlyphs" stroke="#160d06" stroke-width="0.6" transform="rotate(1.217 1253.68 903.59)">0</text>
<text x="1254.38" y="903.59" font-size="60.64" font-weight="normal" fill="#160d06" style="letter-spacing:0.000px;white-space:pre" textLength="24.08" lengthAdjust="spacingAndGlyphs" stroke="#160d06" stroke-width="0.6" transform="rotate(1.217 1253.68 903.59)">0</text>
<text x="1084.64" y="993.10" font-size="59.93" font-weight="bold" fill="none" style="letter-spacing:0.000px;white-space:pre" textLength="23.28" lengthAdjust="spacingAndGlyphs" stroke="#b9a55a" stroke-opacity="0.55" stroke-width="5.30" stroke-linejoin="round" transform="rotate(1.289 1084.54 993.10)">0</text>
<text x="1084.54" y="993.10" font-size="59.93" font-weight="bold" fill="#160d06" style="letter-spacing:0.000px;white-space:pre" textLength="23.28" lengthAdjust="spacingAndGlyphs" stroke="#160d06" stroke-width="0.6" transform="rotate(1.289 1084.54 993.10)">0</text>
<text x="1084.74" y="993.10" font-size="59.93" font-weight="bold" fill="#160d06" style="letter-spacing:0.000px;white-space:pre" textLength="23.28" lengthAdjust="spacingAndGlyphs" stroke="#160d06" stroke-width="0.6" transform="rotate(1.289 1084.54 993.10)">0</text>
<text x="1255.62" y="997.68" font-size="61.63" font-weight="bold" fill="none" style="letter-spacing:0.000px;white-space:pre" textLength="23.41" lengthAdjust="spacingAndGlyphs" stroke="#b9a55a" stroke-opacity="0.55" stroke-width="5.30" stroke-linejoin="round" transform="rotate(1.293 1255.52 997.68)">0</text>
<text x="1255.52" y="997.68" font-size="61.63" font-weight="bold" fill="#160d06" style="letter-spacing:0.000px;white-space:pre" textLength="23.41" lengthAdjust="spacingAndGlyphs" stroke="#160d06" stroke-width="0.6" transform="rotate(1.293 1255.52 997.68)">0</text>
<text x="1255.72" y="997.68" font-size="61.63" font-weight="bold" fill="#160d06" style="letter-spacing:0.000px;white-space:pre" textLength="23.41" lengthAdjust="spacingAndGlyphs" stroke="#160d06" stroke-width="0.6" transform="rotate(1.293 1255.52 997.68)">0</text>
<text x="1025.65" y="1086.94" font-size="61.13" font-weight="bold" fill="none" style="letter-spacing:4.228px;white-space:pre" textLength="85.84" lengthAdjust="spacingAndGlyphs" stroke="#b9a55a" stroke-opacity="0.55" stroke-width="5.30" stroke-linejoin="round" transform="rotate(1.365 1025.55 1086.94)">72.3</text>
<text x="1025.55" y="1086.94" font-size="61.13" font-weight="bold" fill="#160d06" style="letter-spacing:4.228px;white-space:pre" textLength="85.84" lengthAdjust="spacingAndGlyphs" stroke="#160d06" stroke-width="0.6" transform="rotate(1.365 1025.55 1086.94)">72.3</text>
<text x="1025.75" y="1086.94" font-size="61.13" font-weight="bold" fill="#160d06" style="letter-spacing:4.228px;white-space:pre" textLength="85.84" lengthAdjust="spacingAndGlyphs" stroke="#160d06" stroke-width="0.6" transform="rotate(1.365 1025.55 1086.94)">72.3</text>
<text x="1195.94" y="1091.20" font-size="62.51" font-weight="bold" fill="none" style="letter-spacing:4.324px;white-space:pre" textLength="85.74" lengthAdjust="spacingAndGlyphs" stroke="#b9a55a" stroke-opacity="0.55" stroke-width="5.30" stroke-linejoin="round" transform="rotate(1.368 1195.84 1091.20)">21.7</text>
<text x="1195.84" y="1091.20" font-size="62.51" font-weight="bold" fill="#160d06" style="letter-spacing:4.324px;white-space:pre" textLength="85.74" lengthAdjust="spacingAndGlyphs" stroke="#160d06" stroke-width="0.6" transform="rotate(1.368 1195.84 1091.20)">21.7</text>
<text x="1196.04" y="1091.20" font-size="62.51" font-weight="bold" fill="#160d06" style="letter-spacing:4.324px;white-space:pre" textLength="85.74" lengthAdjust="spacingAndGlyphs" stroke="#160d06" stroke-width="0.6" transform="rotate(1.368 1195.84 1091.20)">21.7</text>
<text x="1050.81" y="1179.61" font-size="58.52" font-weight="normal" fill="none" style="letter-spacing:2.874px;white-space:pre" textLength="63.42" lengthAdjust="spacingAndGlyphs" stroke="#b9a55a" stroke-opacity="0.55" stroke-width="5.80" stroke-linejoin="round" transform="rotate(1.440 1050.46 1179.61)">8.8</text>
<text x="1050.46" y="1179.61" font-size="58.52" font-weight="normal" fill="#160d06" style="letter-spacing:2.874px;white-space:pre" textLength="63.42" lengthAdjust="spacingAndGlyphs" stroke="#160d06" stroke-width="0.6" transform="rotate(1.440 1050.46 1179.61)">8.8</text>
<text x="1051.16" y="1179.61" font-size="58.52" font-weight="normal" fill="#160d06" style="letter-spacing:2.874px;white-space:pre" textLength="63.42" lengthAdjust="spacingAndGlyphs" stroke="#160d06" stroke-width="0.6" transform="rotate(1.440 1050.46 1179.61)">8.8</text>
<text x="1221.54" y="1185.09" font-size="61.34" font-weight="normal" fill="none" style="letter-spacing:2.995px;white-space:pre" textLength="61.58" lengthAdjust="spacingAndGlyphs" stroke="#b9a55a" stroke-opacity="0.55" stroke-width="5.80" stroke-linejoin="round" transform="rotate(1.444 1221.19 1185.09)">2.6</text>
<text x="1221.19" y="1185.09" font-size="61.34" font-weight="normal" fill="#160d06" style="letter-spacing:2.995px;white-space:pre" textLength="61.58" lengthAdjust="spacingAndGlyphs" stroke="#160d06" stroke-width="0.6" transform="rotate(1.444 1221.19 1185.09)">2.6</text>
<text x="1221.89" y="1185.09" font-size="61.34" font-weight="normal" fill="#160d06" style="letter-spacing:2.995px;white-space:pre" textLength="61.58" lengthAdjust="spacingAndGlyphs" stroke="#160d06" stroke-width="0.6" transform="rotate(1.444 1221.19 1185.09)">2.6</text>
<text x="1053.37" y="1274.32" font-size="58.37" font-weight="normal" fill="none" style="letter-spacing:2.872px;white-space:pre" textLength="60.70" lengthAdjust="spacingAndGlyphs" stroke="#b9a55a" stroke-opacity="0.55" stroke-width="5.80" stroke-linejoin="round" transform="rotate(1.516 1053.02 1274.32)">5.3</text>
<text x="1053.02" y="1274.32" font-size="58.37" font-weight="normal" fill="#160d06" style="letter-spacing:2.872px;white-space:pre" textLength="60.70" lengthAdjust="spacingAndGlyphs" stroke="#160d06" stroke-width="0.6" transform="rotate(1.516 1053.02 1274.32)">5.3</text>
<text x="1053.72" y="1274.32" font-size="58.37" font-weight="normal" fill="#160d06" style="letter-spacing:2.872px;white-space:pre" textLength="60.70" lengthAdjust="spacingAndGlyphs" stroke="#160d06" stroke-width="0.6" transform="rotate(1.516 1053.02 1274.32)">5.3</text>
<text x="1226.75" y="1277.72" font-size="58.37" font-weight="normal" fill="none" style="letter-spacing:2.796px;white-space:pre" textLength="57.08" lengthAdjust="spacingAndGlyphs" stroke="#b9a55a" stroke-opacity="0.55" stroke-width="5.80" stroke-linejoin="round" transform="rotate(1.519 1226.40 1277.72)">1.6</text>
<text x="1226.40" y="1277.72" font-size="58.37" font-weight="normal" fill="#160d06" style="letter-spacing:2.796px;white-space:pre" textLength="57.08" lengthAdjust="spacingAndGlyphs" stroke="#160d06" stroke-width="0.6" transform="rotate(1.519 1226.40 1277.72)">1.6</text>
<text x="1227.10" y="1277.72" font-size="58.37" font-weight="normal" fill="#160d06" style="letter-spacing:2.796px;white-space:pre" textLength="57.08" lengthAdjust="spacingAndGlyphs" stroke="#160d06" stroke-width="0.6" transform="rotate(1.519 1226.40 1277.72)">1.6</text>
<text x="1055.40" y="1368.40" font-size="60.07" font-weight="normal" fill="none" style="letter-spacing:2.945px;white-space:pre" textLength="59.72" lengthAdjust="spacingAndGlyphs" stroke="#b9a55a" stroke-opacity="0.55" stroke-width="5.80" stroke-linejoin="round" transform="rotate(1.592 1055.05 1368.40)">9.5</text>
<text x="1055.05" y="1368.40" font-size="60.07" font-weight="normal" fill="#160d06" style="letter-spacing:2.945px;white-space:pre" textLength="59.72" lengthAdjust="spacingAndGlyphs" stroke="#160d06" stroke-width="0.6" transform="rotate(1.592 1055.05 1368.40)">9.5</text>
<text x="1055.75" y="1368.40" font-size="60.07" font-weight="normal" fill="#160d06" style="letter-spacing:2.945px;white-space:pre" textLength="59.72" lengthAdjust="spacingAndGlyphs" stroke="#160d06" stroke-width="0.6" transform="rotate(1.592 1055.05 1368.40)">9.5</text>
<text x="1224.06" y="1371.80" font-size="60.07" font-weight="normal" fill="none" style="letter-spacing:2.933px;white-space:pre" textLength="61.24" lengthAdjust="spacingAndGlyphs" stroke="#b9a55a" stroke-opacity="0.55" stroke-width="5.80" stroke-linejoin="round" transform="rotate(1.595 1223.71 1371.80)">2.8</text>
<text x="1223.71" y="1371.80" font-size="60.07" font-weight="normal" fill="#160d06" style="letter-spacing:2.933px;white-space:pre" textLength="61.24" lengthAdjust="spacingAndGlyphs" stroke="#160d06" stroke-width="0.6" transform="rotate(1.595 1223.71 1371.80)">2.8</text>
<text x="1224.41" y="1371.80" font-size="60.07" font-weight="normal" fill="#160d06" style="letter-spacing:2.933px;white-space:pre" textLength="61.24" lengthAdjust="spacingAndGlyphs" stroke="#160d06" stroke-width="0.6" transform="rotate(1.595 1223.71 1371.80)">2.8</text>
<text x="1030.79" y="1460.10" font-size="59.93" font-weight="bold" fill="none" style="letter-spacing:4.090px;white-space:pre" textLength="85.33" lengthAdjust="spacingAndGlyphs" stroke="#b9a55a" stroke-opacity="0.55" stroke-width="5.30" stroke-linejoin="round" transform="rotate(1.666 1030.69 1460.10)">10.0</text>
<text x="1030.69" y="1460.10" font-size="59.93" font-weight="bold" fill="#160d06" style="letter-spacing:4.090px;white-space:pre" textLength="85.33" lengthAdjust="spacingAndGlyphs" stroke="#160d06" stroke-width="0.6" transform="rotate(1.666 1030.69 1460.10)">10.0</text>
<text x="1030.89" y="1460.10" font-size="59.93" font-weight="bold" fill="#160d06" style="letter-spacing:4.090px;white-space:pre" textLength="85.33" lengthAdjust="spacingAndGlyphs" stroke="#160d06" stroke-width="0.6" transform="rotate(1.666 1030.69 1460.10)">10.0</text>
<text x="1224.93" y="1465.61" font-size="62.96" font-weight="bold" fill="none" style="letter-spacing:4.643px;white-space:pre" textLength="61.33" lengthAdjust="spacingAndGlyphs" stroke="#b9a55a" stroke-opacity="0.55" stroke-width="5.30" stroke-linejoin="round" transform="rotate(1.671 1224.83 1465.61)">3.0</text>
<text x="1224.83" y="1465.61" font-size="62.96" font-weight="bold" fill="#160d06" style="letter-spacing:4.643px;white-space:pre" textLength="61.33" lengthAdjust="spacingAndGlyphs" stroke="#160d06" stroke-width="0.6" transform="rotate(1.671 1224.83 1465.61)">3.0</text>
<text x="1225.03" y="1465.61" font-size="62.96" font-weight="bold" fill="#160d06" style="letter-spacing:4.643px;white-space:pre" textLength="61.33" lengthAdjust="spacingAndGlyphs" stroke="#160d06" stroke-width="0.6" transform="rotate(1.671 1224.83 1465.61)">3.0</text>
</svg>
</body></html>
